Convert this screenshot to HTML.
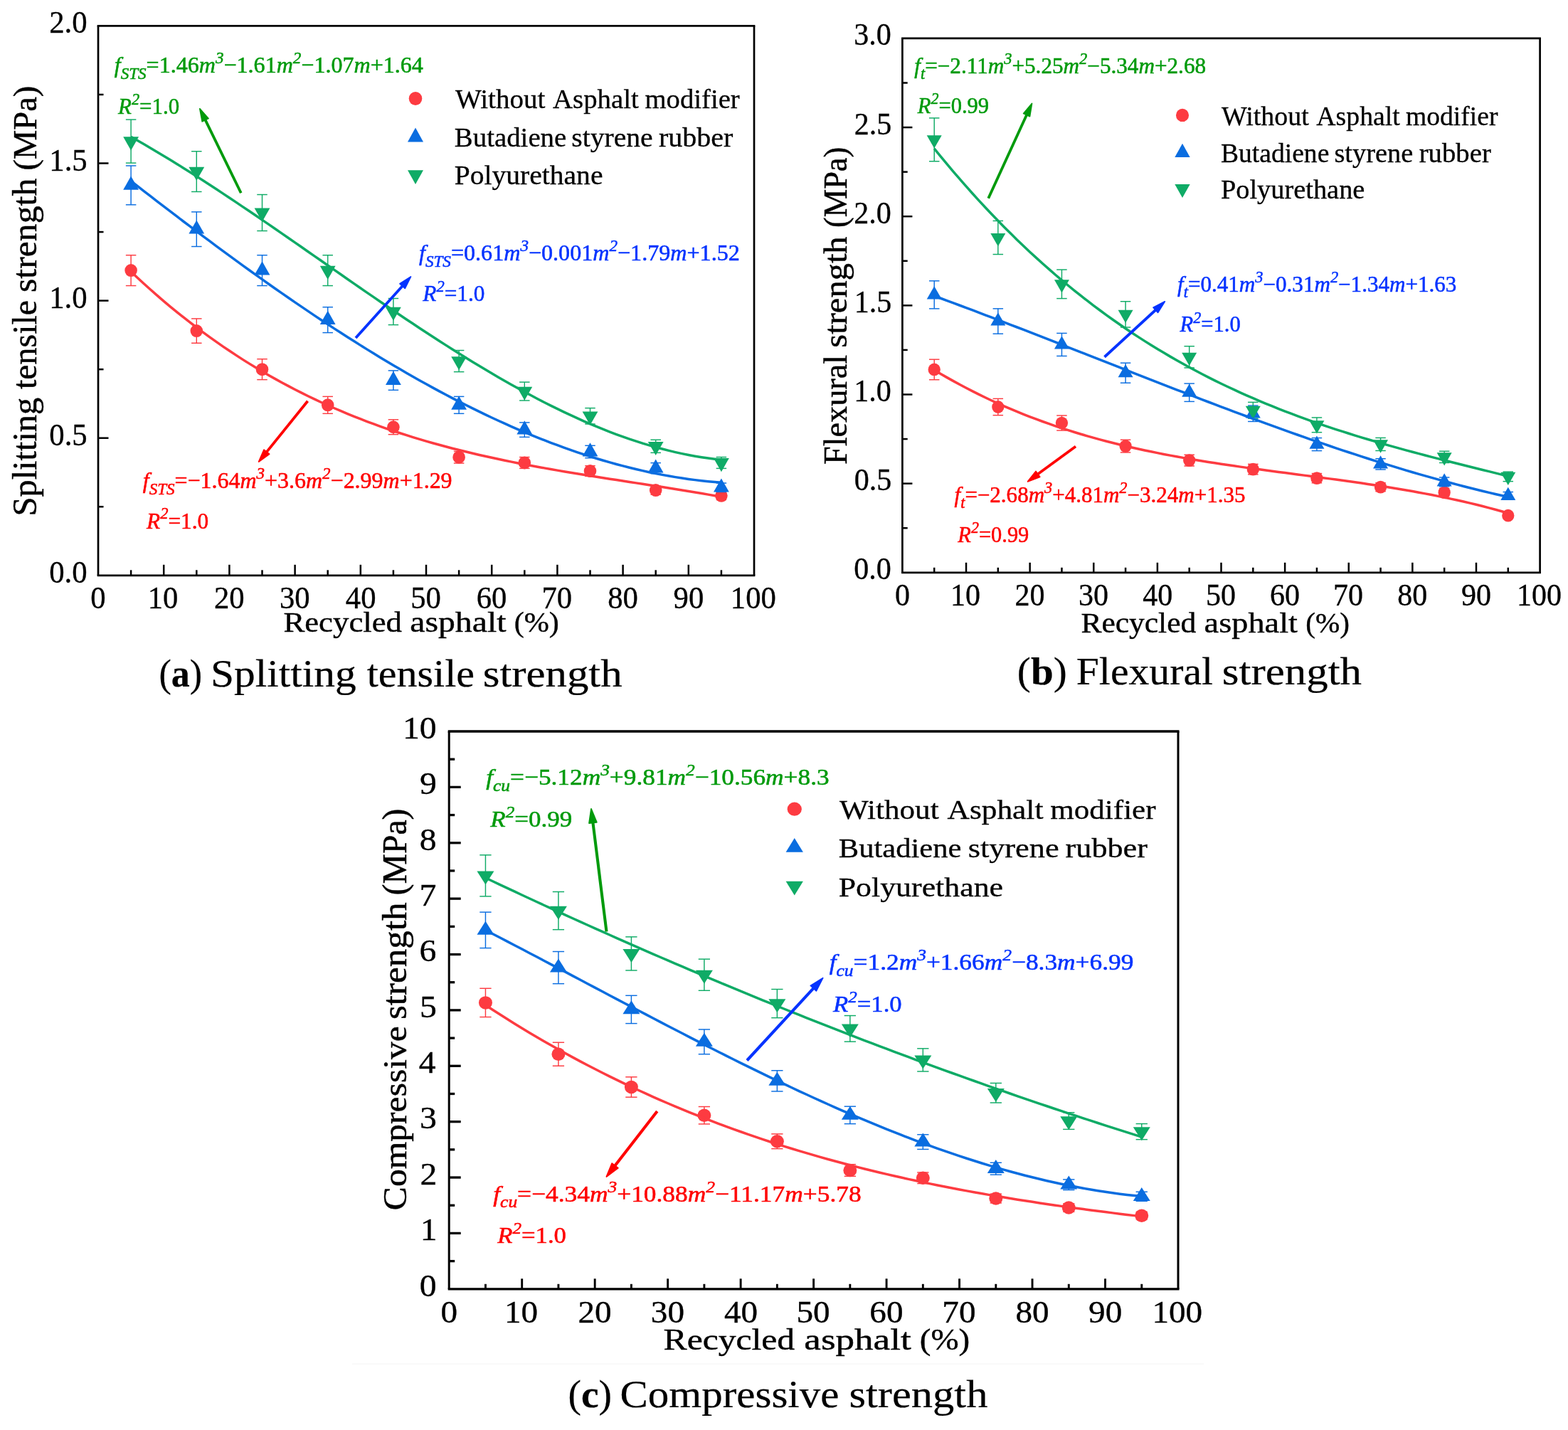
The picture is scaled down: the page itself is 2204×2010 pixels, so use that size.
<!DOCTYPE html>
<html><head><meta charset="utf-8"><title>Strength of recycled asphalt mixtures</title>
<style>
html,body{margin:0;padding:0;background:#ffffff;}
svg{display:block;}
text{font-family:"Liberation Serif",serif;white-space:pre;}
</style></head>
<body>
<svg width="2204" height="2010" viewBox="0 0 2204 2010">
<rect x="0" y="0" width="2204" height="2010" fill="#ffffff"/>
<line x1="495" y1="1917.2" x2="1692" y2="1917.2" stroke="#f6f6f6" stroke-width="1.2"/>
<line x1="184.10" y1="358.68" x2="184.10" y2="401.55" stroke="#fd3b41" stroke-width="1.45" stroke-linecap="butt"/>
<line x1="176.85" y1="358.68" x2="191.35" y2="358.68" stroke="#fd3b41" stroke-width="1.45" stroke-linecap="butt"/>
<line x1="176.85" y1="401.55" x2="191.35" y2="401.55" stroke="#fd3b41" stroke-width="1.45" stroke-linecap="butt"/>
<line x1="276.30" y1="447.90" x2="276.30" y2="482.27" stroke="#fd3b41" stroke-width="1.45" stroke-linecap="butt"/>
<line x1="269.05" y1="447.90" x2="283.55" y2="447.90" stroke="#fd3b41" stroke-width="1.45" stroke-linecap="butt"/>
<line x1="269.05" y1="482.27" x2="283.55" y2="482.27" stroke="#fd3b41" stroke-width="1.45" stroke-linecap="butt"/>
<line x1="368.50" y1="504.67" x2="368.50" y2="533.63" stroke="#fd3b41" stroke-width="1.45" stroke-linecap="butt"/>
<line x1="361.25" y1="504.67" x2="375.75" y2="504.67" stroke="#fd3b41" stroke-width="1.45" stroke-linecap="butt"/>
<line x1="361.25" y1="533.63" x2="375.75" y2="533.63" stroke="#fd3b41" stroke-width="1.45" stroke-linecap="butt"/>
<line x1="460.70" y1="557.38" x2="460.70" y2="581.33" stroke="#fd3b41" stroke-width="1.45" stroke-linecap="butt"/>
<line x1="453.45" y1="557.38" x2="467.95" y2="557.38" stroke="#fd3b41" stroke-width="1.45" stroke-linecap="butt"/>
<line x1="453.45" y1="581.33" x2="467.95" y2="581.33" stroke="#fd3b41" stroke-width="1.45" stroke-linecap="butt"/>
<line x1="552.90" y1="589.82" x2="552.90" y2="610.68" stroke="#fd3b41" stroke-width="1.45" stroke-linecap="butt"/>
<line x1="545.65" y1="589.82" x2="560.15" y2="589.82" stroke="#fd3b41" stroke-width="1.45" stroke-linecap="butt"/>
<line x1="545.65" y1="610.68" x2="560.15" y2="610.68" stroke="#fd3b41" stroke-width="1.45" stroke-linecap="butt"/>
<line x1="645.10" y1="634.43" x2="645.10" y2="651.04" stroke="#fd3b41" stroke-width="1.45" stroke-linecap="butt"/>
<line x1="637.85" y1="634.43" x2="652.35" y2="634.43" stroke="#fd3b41" stroke-width="1.45" stroke-linecap="butt"/>
<line x1="637.85" y1="651.04" x2="652.35" y2="651.04" stroke="#fd3b41" stroke-width="1.45" stroke-linecap="butt"/>
<line x1="737.30" y1="642.54" x2="737.30" y2="658.38" stroke="#fd3b41" stroke-width="1.45" stroke-linecap="butt"/>
<line x1="730.05" y1="642.54" x2="744.55" y2="642.54" stroke="#fd3b41" stroke-width="1.45" stroke-linecap="butt"/>
<line x1="730.05" y1="658.38" x2="744.55" y2="658.38" stroke="#fd3b41" stroke-width="1.45" stroke-linecap="butt"/>
<line x1="829.50" y1="654.71" x2="829.50" y2="669.38" stroke="#fd3b41" stroke-width="1.45" stroke-linecap="butt"/>
<line x1="822.25" y1="654.71" x2="836.75" y2="654.71" stroke="#fd3b41" stroke-width="1.45" stroke-linecap="butt"/>
<line x1="822.25" y1="669.38" x2="836.75" y2="669.38" stroke="#fd3b41" stroke-width="1.45" stroke-linecap="butt"/>
<line x1="921.70" y1="683.09" x2="921.70" y2="695.06" stroke="#fd3b41" stroke-width="1.45" stroke-linecap="butt"/>
<line x1="914.45" y1="683.09" x2="928.95" y2="683.09" stroke="#fd3b41" stroke-width="1.45" stroke-linecap="butt"/>
<line x1="914.45" y1="695.06" x2="928.95" y2="695.06" stroke="#fd3b41" stroke-width="1.45" stroke-linecap="butt"/>
<line x1="1013.90" y1="691.20" x2="1013.90" y2="702.40" stroke="#fd3b41" stroke-width="1.45" stroke-linecap="butt"/>
<line x1="1006.65" y1="691.20" x2="1021.15" y2="691.20" stroke="#fd3b41" stroke-width="1.45" stroke-linecap="butt"/>
<line x1="1006.65" y1="702.40" x2="1021.15" y2="702.40" stroke="#fd3b41" stroke-width="1.45" stroke-linecap="butt"/>
<ellipse cx="184.10" cy="380.12" rx="8.80" ry="9.00" fill="#fd3b41"/>
<ellipse cx="276.30" cy="465.08" rx="8.80" ry="9.00" fill="#fd3b41"/>
<ellipse cx="368.50" cy="519.15" rx="8.80" ry="9.00" fill="#fd3b41"/>
<ellipse cx="460.70" cy="569.36" rx="8.80" ry="9.00" fill="#fd3b41"/>
<ellipse cx="552.90" cy="600.25" rx="8.80" ry="9.00" fill="#fd3b41"/>
<ellipse cx="645.10" cy="642.73" rx="8.80" ry="9.00" fill="#fd3b41"/>
<ellipse cx="737.30" cy="650.46" rx="8.80" ry="9.00" fill="#fd3b41"/>
<ellipse cx="829.50" cy="662.04" rx="8.80" ry="9.00" fill="#fd3b41"/>
<ellipse cx="921.70" cy="689.08" rx="8.80" ry="9.00" fill="#fd3b41"/>
<ellipse cx="1013.90" cy="696.80" rx="8.80" ry="9.00" fill="#fd3b41"/>
<line x1="184.10" y1="232.98" x2="184.10" y2="287.82" stroke="#0a6de0" stroke-width="1.45" stroke-linecap="butt"/>
<line x1="176.85" y1="232.98" x2="191.35" y2="232.98" stroke="#0a6de0" stroke-width="1.45" stroke-linecap="butt"/>
<line x1="176.85" y1="287.82" x2="191.35" y2="287.82" stroke="#0a6de0" stroke-width="1.45" stroke-linecap="butt"/>
<line x1="276.30" y1="297.86" x2="276.30" y2="346.52" stroke="#0a6de0" stroke-width="1.45" stroke-linecap="butt"/>
<line x1="269.05" y1="297.86" x2="283.55" y2="297.86" stroke="#0a6de0" stroke-width="1.45" stroke-linecap="butt"/>
<line x1="269.05" y1="346.52" x2="283.55" y2="346.52" stroke="#0a6de0" stroke-width="1.45" stroke-linecap="butt"/>
<line x1="368.50" y1="358.68" x2="368.50" y2="401.55" stroke="#0a6de0" stroke-width="1.45" stroke-linecap="butt"/>
<line x1="361.25" y1="358.68" x2="375.75" y2="358.68" stroke="#0a6de0" stroke-width="1.45" stroke-linecap="butt"/>
<line x1="361.25" y1="401.55" x2="375.75" y2="401.55" stroke="#0a6de0" stroke-width="1.45" stroke-linecap="butt"/>
<line x1="460.70" y1="431.68" x2="460.70" y2="467.59" stroke="#0a6de0" stroke-width="1.45" stroke-linecap="butt"/>
<line x1="453.45" y1="431.68" x2="467.95" y2="431.68" stroke="#0a6de0" stroke-width="1.45" stroke-linecap="butt"/>
<line x1="453.45" y1="467.59" x2="467.95" y2="467.59" stroke="#0a6de0" stroke-width="1.45" stroke-linecap="butt"/>
<line x1="552.90" y1="520.89" x2="552.90" y2="548.31" stroke="#0a6de0" stroke-width="1.45" stroke-linecap="butt"/>
<line x1="545.65" y1="520.89" x2="560.15" y2="520.89" stroke="#0a6de0" stroke-width="1.45" stroke-linecap="butt"/>
<line x1="545.65" y1="548.31" x2="560.15" y2="548.31" stroke="#0a6de0" stroke-width="1.45" stroke-linecap="butt"/>
<line x1="645.10" y1="557.38" x2="645.10" y2="581.33" stroke="#0a6de0" stroke-width="1.45" stroke-linecap="butt"/>
<line x1="637.85" y1="557.38" x2="652.35" y2="557.38" stroke="#0a6de0" stroke-width="1.45" stroke-linecap="butt"/>
<line x1="637.85" y1="581.33" x2="652.35" y2="581.33" stroke="#0a6de0" stroke-width="1.45" stroke-linecap="butt"/>
<line x1="737.30" y1="593.88" x2="737.30" y2="614.35" stroke="#0a6de0" stroke-width="1.45" stroke-linecap="butt"/>
<line x1="730.05" y1="593.88" x2="744.55" y2="593.88" stroke="#0a6de0" stroke-width="1.45" stroke-linecap="butt"/>
<line x1="730.05" y1="614.35" x2="744.55" y2="614.35" stroke="#0a6de0" stroke-width="1.45" stroke-linecap="butt"/>
<line x1="829.50" y1="626.32" x2="829.50" y2="643.70" stroke="#0a6de0" stroke-width="1.45" stroke-linecap="butt"/>
<line x1="822.25" y1="626.32" x2="836.75" y2="626.32" stroke="#0a6de0" stroke-width="1.45" stroke-linecap="butt"/>
<line x1="822.25" y1="643.70" x2="836.75" y2="643.70" stroke="#0a6de0" stroke-width="1.45" stroke-linecap="butt"/>
<line x1="921.70" y1="650.65" x2="921.70" y2="665.71" stroke="#0a6de0" stroke-width="1.45" stroke-linecap="butt"/>
<line x1="914.45" y1="650.65" x2="928.95" y2="650.65" stroke="#0a6de0" stroke-width="1.45" stroke-linecap="butt"/>
<line x1="914.45" y1="665.71" x2="928.95" y2="665.71" stroke="#0a6de0" stroke-width="1.45" stroke-linecap="butt"/>
<line x1="1013.90" y1="679.04" x2="1013.90" y2="691.40" stroke="#0a6de0" stroke-width="1.45" stroke-linecap="butt"/>
<line x1="1006.65" y1="679.04" x2="1021.15" y2="679.04" stroke="#0a6de0" stroke-width="1.45" stroke-linecap="butt"/>
<line x1="1006.65" y1="691.40" x2="1021.15" y2="691.40" stroke="#0a6de0" stroke-width="1.45" stroke-linecap="butt"/>
<polygon points="184.10,247.60 173.20,266.80 195.00,266.80" fill="#0a6de0"/>
<polygon points="276.30,309.39 265.40,328.59 287.20,328.59" fill="#0a6de0"/>
<polygon points="368.50,367.32 357.60,386.52 379.40,386.52" fill="#0a6de0"/>
<polygon points="460.70,436.83 449.80,456.03 471.60,456.03" fill="#0a6de0"/>
<polygon points="552.90,521.80 542.00,541.00 563.80,541.00" fill="#0a6de0"/>
<polygon points="645.10,556.56 634.20,575.76 656.00,575.76" fill="#0a6de0"/>
<polygon points="737.30,591.31 726.40,610.51 748.20,610.51" fill="#0a6de0"/>
<polygon points="829.50,622.21 818.60,641.41 840.40,641.41" fill="#0a6de0"/>
<polygon points="921.70,645.38 910.80,664.58 932.60,664.58" fill="#0a6de0"/>
<polygon points="1013.90,672.42 1003.00,691.62 1024.80,691.62" fill="#0a6de0"/>
<line x1="184.10" y1="168.09" x2="184.10" y2="229.11" stroke="#0fab66" stroke-width="1.45" stroke-linecap="butt"/>
<line x1="176.85" y1="168.09" x2="191.35" y2="168.09" stroke="#0fab66" stroke-width="1.45" stroke-linecap="butt"/>
<line x1="176.85" y1="229.11" x2="191.35" y2="229.11" stroke="#0fab66" stroke-width="1.45" stroke-linecap="butt"/>
<line x1="276.30" y1="212.70" x2="276.30" y2="269.47" stroke="#0fab66" stroke-width="1.45" stroke-linecap="butt"/>
<line x1="269.05" y1="212.70" x2="283.55" y2="212.70" stroke="#0fab66" stroke-width="1.45" stroke-linecap="butt"/>
<line x1="269.05" y1="269.47" x2="283.55" y2="269.47" stroke="#0fab66" stroke-width="1.45" stroke-linecap="butt"/>
<line x1="368.50" y1="273.53" x2="368.50" y2="324.51" stroke="#0fab66" stroke-width="1.45" stroke-linecap="butt"/>
<line x1="361.25" y1="273.53" x2="375.75" y2="273.53" stroke="#0fab66" stroke-width="1.45" stroke-linecap="butt"/>
<line x1="361.25" y1="324.51" x2="375.75" y2="324.51" stroke="#0fab66" stroke-width="1.45" stroke-linecap="butt"/>
<line x1="460.70" y1="358.68" x2="460.70" y2="401.55" stroke="#0fab66" stroke-width="1.45" stroke-linecap="butt"/>
<line x1="453.45" y1="358.68" x2="467.95" y2="358.68" stroke="#0fab66" stroke-width="1.45" stroke-linecap="butt"/>
<line x1="453.45" y1="401.55" x2="467.95" y2="401.55" stroke="#0fab66" stroke-width="1.45" stroke-linecap="butt"/>
<line x1="552.90" y1="419.51" x2="552.90" y2="456.59" stroke="#0fab66" stroke-width="1.45" stroke-linecap="butt"/>
<line x1="545.65" y1="419.51" x2="560.15" y2="419.51" stroke="#0fab66" stroke-width="1.45" stroke-linecap="butt"/>
<line x1="545.65" y1="456.59" x2="560.15" y2="456.59" stroke="#0fab66" stroke-width="1.45" stroke-linecap="butt"/>
<line x1="645.10" y1="492.50" x2="645.10" y2="522.63" stroke="#0fab66" stroke-width="1.45" stroke-linecap="butt"/>
<line x1="637.85" y1="492.50" x2="652.35" y2="492.50" stroke="#0fab66" stroke-width="1.45" stroke-linecap="butt"/>
<line x1="637.85" y1="522.63" x2="652.35" y2="522.63" stroke="#0fab66" stroke-width="1.45" stroke-linecap="butt"/>
<line x1="737.30" y1="537.11" x2="737.30" y2="562.98" stroke="#0fab66" stroke-width="1.45" stroke-linecap="butt"/>
<line x1="730.05" y1="537.11" x2="744.55" y2="537.11" stroke="#0fab66" stroke-width="1.45" stroke-linecap="butt"/>
<line x1="730.05" y1="562.98" x2="744.55" y2="562.98" stroke="#0fab66" stroke-width="1.45" stroke-linecap="butt"/>
<line x1="829.50" y1="573.60" x2="829.50" y2="596.00" stroke="#0fab66" stroke-width="1.45" stroke-linecap="butt"/>
<line x1="822.25" y1="573.60" x2="836.75" y2="573.60" stroke="#0fab66" stroke-width="1.45" stroke-linecap="butt"/>
<line x1="822.25" y1="596.00" x2="836.75" y2="596.00" stroke="#0fab66" stroke-width="1.45" stroke-linecap="butt"/>
<line x1="921.70" y1="618.21" x2="921.70" y2="636.36" stroke="#0fab66" stroke-width="1.45" stroke-linecap="butt"/>
<line x1="914.45" y1="618.21" x2="928.95" y2="618.21" stroke="#0fab66" stroke-width="1.45" stroke-linecap="butt"/>
<line x1="914.45" y1="636.36" x2="928.95" y2="636.36" stroke="#0fab66" stroke-width="1.45" stroke-linecap="butt"/>
<line x1="1013.90" y1="642.54" x2="1013.90" y2="658.38" stroke="#0fab66" stroke-width="1.45" stroke-linecap="butt"/>
<line x1="1006.65" y1="642.54" x2="1021.15" y2="642.54" stroke="#0fab66" stroke-width="1.45" stroke-linecap="butt"/>
<line x1="1006.65" y1="658.38" x2="1021.15" y2="658.38" stroke="#0fab66" stroke-width="1.45" stroke-linecap="butt"/>
<polygon points="184.10,211.40 173.20,192.20 195.00,192.20" fill="#0fab66"/>
<polygon points="276.30,253.89 265.40,234.69 287.20,234.69" fill="#0fab66"/>
<polygon points="368.50,311.82 357.60,292.62 379.40,292.62" fill="#0fab66"/>
<polygon points="460.70,392.92 449.80,373.72 471.60,373.72" fill="#0fab66"/>
<polygon points="552.90,450.85 542.00,431.65 563.80,431.65" fill="#0fab66"/>
<polygon points="645.10,520.36 634.20,501.16 656.00,501.16" fill="#0fab66"/>
<polygon points="737.30,562.85 726.40,543.65 748.20,543.65" fill="#0fab66"/>
<polygon points="829.50,597.60 818.60,578.40 840.40,578.40" fill="#0fab66"/>
<polygon points="921.70,640.09 910.80,620.89 932.60,620.89" fill="#0fab66"/>
<polygon points="1013.90,663.26 1003.00,644.06 1024.80,644.06" fill="#0fab66"/>
<path d="M184.10,381.86 L193.32,390.52 L202.54,398.99 L211.76,407.28 L220.98,415.38 L230.20,423.30 L239.42,431.04 L248.64,438.60 L257.86,445.99 L267.08,453.21 L276.30,460.26 L285.52,467.15 L294.74,473.87 L303.96,480.43 L313.18,486.83 L322.40,493.07 L331.62,499.16 L340.84,505.10 L350.06,510.89 L359.28,516.54 L368.50,522.04 L377.72,527.40 L386.94,532.62 L396.16,537.70 L405.38,542.65 L414.60,547.47 L423.82,552.16 L433.04,556.72 L442.26,561.16 L451.48,565.48 L460.70,569.68 L469.92,573.76 L479.14,577.73 L488.36,581.59 L497.58,585.34 L506.80,588.98 L516.02,592.52 L525.24,595.95 L534.46,599.29 L543.68,602.53 L552.90,605.68 L562.12,608.73 L571.34,611.70 L580.56,614.58 L589.78,617.38 L599.00,620.09 L608.22,622.73 L617.44,625.29 L626.66,627.77 L635.88,630.19 L645.10,632.53 L654.32,634.81 L663.54,637.03 L672.76,639.18 L681.98,641.27 L691.20,643.31 L700.42,645.29 L709.64,647.22 L718.86,649.11 L728.08,650.94 L737.30,652.73 L746.52,654.48 L755.74,656.20 L764.96,657.87 L774.18,659.51 L783.40,661.12 L792.62,662.70 L801.84,664.25 L811.06,665.78 L820.28,667.29 L829.50,668.78 L838.72,670.25 L847.94,671.70 L857.16,673.15 L866.38,674.59 L875.60,676.02 L884.82,677.44 L894.04,678.87 L903.26,680.29 L912.48,681.72 L921.70,683.15 L930.92,684.59 L940.14,686.05 L949.36,687.51 L958.58,689.00 L967.80,690.50 L977.02,692.02 L986.24,693.56 L995.46,695.13 L1004.68,696.73 L1013.90,698.36" fill="none" stroke="#fd3b41" stroke-width="3.50" stroke-linejoin="round"/>
<path d="M184.10,254.42 L193.32,261.61 L202.54,268.77 L211.76,275.91 L220.98,283.03 L230.20,290.12 L239.42,297.19 L248.64,304.23 L257.86,311.24 L267.08,318.21 L276.30,325.16 L285.52,332.08 L294.74,338.96 L303.96,345.81 L313.18,352.62 L322.40,359.40 L331.62,366.13 L340.84,372.83 L350.06,379.49 L359.28,386.11 L368.50,392.68 L377.72,399.21 L386.94,405.70 L396.16,412.13 L405.38,418.53 L414.60,424.87 L423.82,431.16 L433.04,437.41 L442.26,443.60 L451.48,449.74 L460.70,455.82 L469.92,461.85 L479.14,467.82 L488.36,473.74 L497.58,479.60 L506.80,485.39 L516.02,491.13 L525.24,496.80 L534.46,502.41 L543.68,507.96 L552.90,513.44 L562.12,518.85 L571.34,524.20 L580.56,529.47 L589.78,534.68 L599.00,539.81 L608.22,544.87 L617.44,549.86 L626.66,554.77 L635.88,559.61 L645.10,564.37 L654.32,569.05 L663.54,573.66 L672.76,578.18 L681.98,582.62 L691.20,586.97 L700.42,591.25 L709.64,595.44 L718.86,599.54 L728.08,603.55 L737.30,607.48 L746.52,611.31 L755.74,615.05 L764.96,618.71 L774.18,622.27 L783.40,625.73 L792.62,629.10 L801.84,632.37 L811.06,635.54 L820.28,638.62 L829.50,641.59 L838.72,644.47 L847.94,647.24 L857.16,649.91 L866.38,652.47 L875.60,654.92 L884.82,657.27 L894.04,659.51 L903.26,661.65 L912.48,663.67 L921.70,665.58 L930.92,667.37 L940.14,669.06 L949.36,670.62 L958.58,672.07 L967.80,673.41 L977.02,674.62 L986.24,675.72 L995.46,676.69 L1004.68,677.54 L1013.90,678.27" fill="none" stroke="#0a6de0" stroke-width="3.50" stroke-linejoin="round"/>
<path d="M184.10,192.26 L193.32,197.48 L202.54,202.79 L211.76,208.18 L220.98,213.65 L230.20,219.19 L239.42,224.80 L248.64,230.47 L257.86,236.22 L267.08,242.02 L276.30,247.88 L285.52,253.80 L294.74,259.77 L303.96,265.80 L313.18,271.86 L322.40,277.98 L331.62,284.13 L340.84,290.33 L350.06,296.55 L359.28,302.81 L368.50,309.10 L377.72,315.42 L386.94,321.76 L396.16,328.12 L405.38,334.50 L414.60,340.89 L423.82,347.29 L433.04,353.71 L442.26,360.12 L451.48,366.54 L460.70,372.97 L469.92,379.38 L479.14,385.80 L488.36,392.20 L497.58,398.59 L506.80,404.96 L516.02,411.32 L525.24,417.66 L534.46,423.97 L543.68,430.26 L552.90,436.52 L562.12,442.74 L571.34,448.93 L580.56,455.08 L589.78,461.19 L599.00,467.25 L608.22,473.27 L617.44,479.24 L626.66,485.15 L635.88,491.01 L645.10,496.81 L654.32,502.54 L663.54,508.21 L672.76,513.82 L681.98,519.35 L691.20,524.80 L700.42,530.18 L709.64,535.49 L718.86,540.70 L728.08,545.84 L737.30,550.88 L746.52,555.83 L755.74,560.69 L764.96,565.45 L774.18,570.11 L783.40,574.66 L792.62,579.11 L801.84,583.45 L811.06,587.68 L820.28,591.79 L829.50,595.78 L838.72,599.65 L847.94,603.40 L857.16,607.02 L866.38,610.52 L875.60,613.87 L884.82,617.10 L894.04,620.18 L903.26,623.12 L912.48,625.92 L921.70,628.56 L930.92,631.06 L940.14,633.41 L949.36,635.59 L958.58,637.62 L967.80,639.49 L977.02,641.19 L986.24,642.72 L995.46,644.08 L1004.68,645.26 L1013.90,646.27" fill="none" stroke="#0fab66" stroke-width="3.50" stroke-linejoin="round"/>
<line x1="184.10" y1="808.80" x2="184.10" y2="801.30" stroke="#000000" stroke-width="2.50" stroke-linecap="butt"/>
<line x1="230.20" y1="808.80" x2="230.20" y2="793.80" stroke="#000000" stroke-width="2.50" stroke-linecap="butt"/>
<line x1="276.30" y1="808.80" x2="276.30" y2="801.30" stroke="#000000" stroke-width="2.50" stroke-linecap="butt"/>
<line x1="322.40" y1="808.80" x2="322.40" y2="793.80" stroke="#000000" stroke-width="2.50" stroke-linecap="butt"/>
<line x1="368.50" y1="808.80" x2="368.50" y2="801.30" stroke="#000000" stroke-width="2.50" stroke-linecap="butt"/>
<line x1="414.60" y1="808.80" x2="414.60" y2="793.80" stroke="#000000" stroke-width="2.50" stroke-linecap="butt"/>
<line x1="460.70" y1="808.80" x2="460.70" y2="801.30" stroke="#000000" stroke-width="2.50" stroke-linecap="butt"/>
<line x1="506.80" y1="808.80" x2="506.80" y2="793.80" stroke="#000000" stroke-width="2.50" stroke-linecap="butt"/>
<line x1="552.90" y1="808.80" x2="552.90" y2="801.30" stroke="#000000" stroke-width="2.50" stroke-linecap="butt"/>
<line x1="599.00" y1="808.80" x2="599.00" y2="793.80" stroke="#000000" stroke-width="2.50" stroke-linecap="butt"/>
<line x1="645.10" y1="808.80" x2="645.10" y2="801.30" stroke="#000000" stroke-width="2.50" stroke-linecap="butt"/>
<line x1="691.20" y1="808.80" x2="691.20" y2="793.80" stroke="#000000" stroke-width="2.50" stroke-linecap="butt"/>
<line x1="737.30" y1="808.80" x2="737.30" y2="801.30" stroke="#000000" stroke-width="2.50" stroke-linecap="butt"/>
<line x1="783.40" y1="808.80" x2="783.40" y2="793.80" stroke="#000000" stroke-width="2.50" stroke-linecap="butt"/>
<line x1="829.50" y1="808.80" x2="829.50" y2="801.30" stroke="#000000" stroke-width="2.50" stroke-linecap="butt"/>
<line x1="875.60" y1="808.80" x2="875.60" y2="793.80" stroke="#000000" stroke-width="2.50" stroke-linecap="butt"/>
<line x1="921.70" y1="808.80" x2="921.70" y2="801.30" stroke="#000000" stroke-width="2.50" stroke-linecap="butt"/>
<line x1="967.80" y1="808.80" x2="967.80" y2="793.80" stroke="#000000" stroke-width="2.50" stroke-linecap="butt"/>
<line x1="1013.90" y1="808.80" x2="1013.90" y2="801.30" stroke="#000000" stroke-width="2.50" stroke-linecap="butt"/>
<line x1="138.00" y1="712.25" x2="145.50" y2="712.25" stroke="#000000" stroke-width="2.50" stroke-linecap="butt"/>
<line x1="138.00" y1="615.70" x2="152.50" y2="615.70" stroke="#000000" stroke-width="2.50" stroke-linecap="butt"/>
<line x1="138.00" y1="519.15" x2="145.50" y2="519.15" stroke="#000000" stroke-width="2.50" stroke-linecap="butt"/>
<line x1="138.00" y1="422.60" x2="152.50" y2="422.60" stroke="#000000" stroke-width="2.50" stroke-linecap="butt"/>
<line x1="138.00" y1="326.05" x2="145.50" y2="326.05" stroke="#000000" stroke-width="2.50" stroke-linecap="butt"/>
<line x1="138.00" y1="229.50" x2="152.50" y2="229.50" stroke="#000000" stroke-width="2.50" stroke-linecap="butt"/>
<line x1="138.00" y1="132.95" x2="145.50" y2="132.95" stroke="#000000" stroke-width="2.50" stroke-linecap="butt"/>
<line x1="136.65" y1="36.40" x2="1061.35" y2="36.40" stroke="#000000" stroke-width="2.70" stroke-linecap="butt"/>
<line x1="136.65" y1="808.80" x2="1061.35" y2="808.80" stroke="#000000" stroke-width="2.70" stroke-linecap="butt"/>
<line x1="138.00" y1="36.40" x2="138.00" y2="808.80" stroke="#000000" stroke-width="2.70" stroke-linecap="butt"/>
<line x1="1060.00" y1="36.40" x2="1060.00" y2="808.80" stroke="#000000" stroke-width="2.70" stroke-linecap="butt"/>
<ellipse cx="584.00" cy="138.50" rx="9.30" ry="9.50" fill="#fd3b41"/>
<polygon points="584.00,179.60 573.00,199.40 595.00,199.40" fill="#0a6de0"/>
<polygon points="584.00,259.00 573.00,239.20 595.00,239.20" fill="#0fab66"/>
<line x1="338.75" y1="271.25" x2="288.12" y2="167.62" stroke="#009a0c" stroke-width="3.80" stroke-linecap="butt"/>
<polygon points="280.87,152.78 292.94,166.49 284.26,170.73" fill="#009a0c" stroke="#009a0c" stroke-width="1.80" stroke-linejoin="round"/>
<line x1="500.00" y1="475.00" x2="566.37" y2="401.25" stroke="#0433ff" stroke-width="3.80" stroke-linecap="butt"/>
<polygon points="577.43,388.97 569.23,405.30 562.05,398.84" fill="#0433ff" stroke="#0433ff" stroke-width="1.80" stroke-linejoin="round"/>
<line x1="432.50" y1="563.75" x2="374.12" y2="636.10" stroke="#ff0000" stroke-width="3.80" stroke-linecap="butt"/>
<polygon points="363.74,648.96 371.05,632.21 378.57,638.28" fill="#ff0000" stroke="#ff0000" stroke-width="1.80" stroke-linejoin="round"/>
<line x1="1313.21" y1="505.19" x2="1313.21" y2="533.73" stroke="#fd3b41" stroke-width="1.45" stroke-linecap="butt"/>
<line x1="1305.96" y1="505.19" x2="1320.46" y2="505.19" stroke="#fd3b41" stroke-width="1.45" stroke-linecap="butt"/>
<line x1="1305.96" y1="533.73" x2="1320.46" y2="533.73" stroke="#fd3b41" stroke-width="1.45" stroke-linecap="butt"/>
<line x1="1402.83" y1="560.38" x2="1402.83" y2="583.66" stroke="#fd3b41" stroke-width="1.45" stroke-linecap="butt"/>
<line x1="1395.58" y1="560.38" x2="1410.08" y2="560.38" stroke="#fd3b41" stroke-width="1.45" stroke-linecap="butt"/>
<line x1="1395.58" y1="583.66" x2="1410.08" y2="583.66" stroke="#fd3b41" stroke-width="1.45" stroke-linecap="butt"/>
<line x1="1492.45" y1="584.04" x2="1492.45" y2="605.06" stroke="#fd3b41" stroke-width="1.45" stroke-linecap="butt"/>
<line x1="1485.20" y1="584.04" x2="1499.70" y2="584.04" stroke="#fd3b41" stroke-width="1.45" stroke-linecap="butt"/>
<line x1="1485.20" y1="605.06" x2="1499.70" y2="605.06" stroke="#fd3b41" stroke-width="1.45" stroke-linecap="butt"/>
<line x1="1582.07" y1="618.20" x2="1582.07" y2="635.97" stroke="#fd3b41" stroke-width="1.45" stroke-linecap="butt"/>
<line x1="1574.82" y1="618.20" x2="1589.32" y2="618.20" stroke="#fd3b41" stroke-width="1.45" stroke-linecap="butt"/>
<line x1="1574.82" y1="635.97" x2="1589.32" y2="635.97" stroke="#fd3b41" stroke-width="1.45" stroke-linecap="butt"/>
<line x1="1671.69" y1="639.23" x2="1671.69" y2="655.00" stroke="#fd3b41" stroke-width="1.45" stroke-linecap="butt"/>
<line x1="1664.44" y1="639.23" x2="1678.94" y2="639.23" stroke="#fd3b41" stroke-width="1.45" stroke-linecap="butt"/>
<line x1="1664.44" y1="655.00" x2="1678.94" y2="655.00" stroke="#fd3b41" stroke-width="1.45" stroke-linecap="butt"/>
<line x1="1761.31" y1="652.37" x2="1761.31" y2="666.88" stroke="#fd3b41" stroke-width="1.45" stroke-linecap="butt"/>
<line x1="1754.06" y1="652.37" x2="1768.56" y2="652.37" stroke="#fd3b41" stroke-width="1.45" stroke-linecap="butt"/>
<line x1="1754.06" y1="666.88" x2="1768.56" y2="666.88" stroke="#fd3b41" stroke-width="1.45" stroke-linecap="butt"/>
<line x1="1850.93" y1="665.51" x2="1850.93" y2="678.77" stroke="#fd3b41" stroke-width="1.45" stroke-linecap="butt"/>
<line x1="1843.68" y1="665.51" x2="1858.18" y2="665.51" stroke="#fd3b41" stroke-width="1.45" stroke-linecap="butt"/>
<line x1="1843.68" y1="678.77" x2="1858.18" y2="678.77" stroke="#fd3b41" stroke-width="1.45" stroke-linecap="butt"/>
<line x1="1940.55" y1="678.65" x2="1940.55" y2="690.66" stroke="#fd3b41" stroke-width="1.45" stroke-linecap="butt"/>
<line x1="1933.30" y1="678.65" x2="1947.80" y2="678.65" stroke="#fd3b41" stroke-width="1.45" stroke-linecap="butt"/>
<line x1="1933.30" y1="690.66" x2="1947.80" y2="690.66" stroke="#fd3b41" stroke-width="1.45" stroke-linecap="butt"/>
<line x1="2030.17" y1="686.53" x2="2030.17" y2="697.80" stroke="#fd3b41" stroke-width="1.45" stroke-linecap="butt"/>
<line x1="2022.92" y1="686.53" x2="2037.42" y2="686.53" stroke="#fd3b41" stroke-width="1.45" stroke-linecap="butt"/>
<line x1="2022.92" y1="697.80" x2="2037.42" y2="697.80" stroke="#fd3b41" stroke-width="1.45" stroke-linecap="butt"/>
<line x1="2119.79" y1="720.70" x2="2119.79" y2="728.71" stroke="#fd3b41" stroke-width="1.45" stroke-linecap="butt"/>
<line x1="2112.54" y1="720.70" x2="2127.04" y2="720.70" stroke="#fd3b41" stroke-width="1.45" stroke-linecap="butt"/>
<line x1="2112.54" y1="728.71" x2="2127.04" y2="728.71" stroke="#fd3b41" stroke-width="1.45" stroke-linecap="butt"/>
<ellipse cx="1313.21" cy="519.46" rx="8.65" ry="8.90" fill="#fd3b41"/>
<ellipse cx="1402.83" cy="572.02" rx="8.65" ry="8.90" fill="#fd3b41"/>
<ellipse cx="1492.45" cy="594.55" rx="8.65" ry="8.90" fill="#fd3b41"/>
<ellipse cx="1582.07" cy="627.09" rx="8.65" ry="8.90" fill="#fd3b41"/>
<ellipse cx="1671.69" cy="647.11" rx="8.65" ry="8.90" fill="#fd3b41"/>
<ellipse cx="1761.31" cy="659.63" rx="8.65" ry="8.90" fill="#fd3b41"/>
<ellipse cx="1850.93" cy="672.14" rx="8.65" ry="8.90" fill="#fd3b41"/>
<ellipse cx="1940.55" cy="684.66" rx="8.65" ry="8.90" fill="#fd3b41"/>
<ellipse cx="2030.17" cy="692.16" rx="8.65" ry="8.90" fill="#fd3b41"/>
<ellipse cx="2119.79" cy="724.70" rx="8.65" ry="8.90" fill="#fd3b41"/>
<line x1="1313.21" y1="394.81" x2="1313.21" y2="433.86" stroke="#0a6de0" stroke-width="1.45" stroke-linecap="butt"/>
<line x1="1305.96" y1="394.81" x2="1320.46" y2="394.81" stroke="#0a6de0" stroke-width="1.45" stroke-linecap="butt"/>
<line x1="1305.96" y1="433.86" x2="1320.46" y2="433.86" stroke="#0a6de0" stroke-width="1.45" stroke-linecap="butt"/>
<line x1="1402.83" y1="433.84" x2="1402.83" y2="469.17" stroke="#0a6de0" stroke-width="1.45" stroke-linecap="butt"/>
<line x1="1395.58" y1="433.84" x2="1410.08" y2="433.84" stroke="#0a6de0" stroke-width="1.45" stroke-linecap="butt"/>
<line x1="1395.58" y1="469.17" x2="1410.08" y2="469.17" stroke="#0a6de0" stroke-width="1.45" stroke-linecap="butt"/>
<line x1="1492.45" y1="468.40" x2="1492.45" y2="500.44" stroke="#0a6de0" stroke-width="1.45" stroke-linecap="butt"/>
<line x1="1485.20" y1="468.40" x2="1499.70" y2="468.40" stroke="#0a6de0" stroke-width="1.45" stroke-linecap="butt"/>
<line x1="1485.20" y1="500.44" x2="1499.70" y2="500.44" stroke="#0a6de0" stroke-width="1.45" stroke-linecap="butt"/>
<line x1="1582.07" y1="510.18" x2="1582.07" y2="538.24" stroke="#0a6de0" stroke-width="1.45" stroke-linecap="butt"/>
<line x1="1574.82" y1="510.18" x2="1589.32" y2="510.18" stroke="#0a6de0" stroke-width="1.45" stroke-linecap="butt"/>
<line x1="1574.82" y1="538.24" x2="1589.32" y2="538.24" stroke="#0a6de0" stroke-width="1.45" stroke-linecap="butt"/>
<line x1="1671.69" y1="539.09" x2="1671.69" y2="564.40" stroke="#0a6de0" stroke-width="1.45" stroke-linecap="butt"/>
<line x1="1664.44" y1="539.09" x2="1678.94" y2="539.09" stroke="#0a6de0" stroke-width="1.45" stroke-linecap="butt"/>
<line x1="1664.44" y1="564.40" x2="1678.94" y2="564.40" stroke="#0a6de0" stroke-width="1.45" stroke-linecap="butt"/>
<line x1="1761.31" y1="570.11" x2="1761.31" y2="592.46" stroke="#0a6de0" stroke-width="1.45" stroke-linecap="butt"/>
<line x1="1754.06" y1="570.11" x2="1768.56" y2="570.11" stroke="#0a6de0" stroke-width="1.45" stroke-linecap="butt"/>
<line x1="1754.06" y1="592.46" x2="1768.56" y2="592.46" stroke="#0a6de0" stroke-width="1.45" stroke-linecap="butt"/>
<line x1="1850.93" y1="615.57" x2="1850.93" y2="633.59" stroke="#0a6de0" stroke-width="1.45" stroke-linecap="butt"/>
<line x1="1843.68" y1="615.57" x2="1858.18" y2="615.57" stroke="#0a6de0" stroke-width="1.45" stroke-linecap="butt"/>
<line x1="1843.68" y1="633.59" x2="1858.18" y2="633.59" stroke="#0a6de0" stroke-width="1.45" stroke-linecap="butt"/>
<line x1="1940.55" y1="644.75" x2="1940.55" y2="659.99" stroke="#0a6de0" stroke-width="1.45" stroke-linecap="butt"/>
<line x1="1933.30" y1="644.75" x2="1947.80" y2="644.75" stroke="#0a6de0" stroke-width="1.45" stroke-linecap="butt"/>
<line x1="1933.30" y1="659.99" x2="1947.80" y2="659.99" stroke="#0a6de0" stroke-width="1.45" stroke-linecap="butt"/>
<line x1="2030.17" y1="671.03" x2="2030.17" y2="683.77" stroke="#0a6de0" stroke-width="1.45" stroke-linecap="butt"/>
<line x1="2022.92" y1="671.03" x2="2037.42" y2="671.03" stroke="#0a6de0" stroke-width="1.45" stroke-linecap="butt"/>
<line x1="2022.92" y1="683.77" x2="2037.42" y2="683.77" stroke="#0a6de0" stroke-width="1.45" stroke-linecap="butt"/>
<line x1="2119.79" y1="691.53" x2="2119.79" y2="702.31" stroke="#0a6de0" stroke-width="1.45" stroke-linecap="butt"/>
<line x1="2112.54" y1="691.53" x2="2127.04" y2="691.53" stroke="#0a6de0" stroke-width="1.45" stroke-linecap="butt"/>
<line x1="2112.54" y1="702.31" x2="2127.04" y2="702.31" stroke="#0a6de0" stroke-width="1.45" stroke-linecap="butt"/>
<polygon points="1313.21,402.13 1302.71,420.43 1323.71,420.43" fill="#0a6de0"/>
<polygon points="1402.83,439.30 1392.33,457.60 1413.33,457.60" fill="#0a6de0"/>
<polygon points="1492.45,472.22 1481.95,490.52 1502.95,490.52" fill="#0a6de0"/>
<polygon points="1582.07,512.01 1571.57,530.31 1592.57,530.31" fill="#0a6de0"/>
<polygon points="1671.69,539.55 1661.19,557.85 1682.19,557.85" fill="#0a6de0"/>
<polygon points="1761.31,569.08 1750.81,587.38 1771.81,587.38" fill="#0a6de0"/>
<polygon points="1850.93,612.38 1840.43,630.68 1861.43,630.68" fill="#0a6de0"/>
<polygon points="1940.55,640.17 1930.05,658.47 1951.05,658.47" fill="#0a6de0"/>
<polygon points="2030.17,665.20 2019.67,683.50 2040.67,683.50" fill="#0a6de0"/>
<polygon points="2119.79,684.72 2109.29,703.02 2130.29,703.02" fill="#0a6de0"/>
<line x1="1313.21" y1="165.90" x2="1313.21" y2="226.74" stroke="#0fab66" stroke-width="1.45" stroke-linecap="butt"/>
<line x1="1305.96" y1="165.90" x2="1320.46" y2="165.90" stroke="#0fab66" stroke-width="1.45" stroke-linecap="butt"/>
<line x1="1305.96" y1="226.74" x2="1320.46" y2="226.74" stroke="#0fab66" stroke-width="1.45" stroke-linecap="butt"/>
<line x1="1402.83" y1="310.44" x2="1402.83" y2="357.53" stroke="#0fab66" stroke-width="1.45" stroke-linecap="butt"/>
<line x1="1395.58" y1="310.44" x2="1410.08" y2="310.44" stroke="#0fab66" stroke-width="1.45" stroke-linecap="butt"/>
<line x1="1395.58" y1="357.53" x2="1410.08" y2="357.53" stroke="#0fab66" stroke-width="1.45" stroke-linecap="butt"/>
<line x1="1492.45" y1="379.04" x2="1492.45" y2="419.59" stroke="#0fab66" stroke-width="1.45" stroke-linecap="butt"/>
<line x1="1485.20" y1="379.04" x2="1499.70" y2="379.04" stroke="#0fab66" stroke-width="1.45" stroke-linecap="butt"/>
<line x1="1485.20" y1="419.59" x2="1499.70" y2="419.59" stroke="#0fab66" stroke-width="1.45" stroke-linecap="butt"/>
<line x1="1582.07" y1="423.72" x2="1582.07" y2="460.01" stroke="#0fab66" stroke-width="1.45" stroke-linecap="butt"/>
<line x1="1574.82" y1="423.72" x2="1589.32" y2="423.72" stroke="#0fab66" stroke-width="1.45" stroke-linecap="butt"/>
<line x1="1574.82" y1="460.01" x2="1589.32" y2="460.01" stroke="#0fab66" stroke-width="1.45" stroke-linecap="butt"/>
<line x1="1671.69" y1="486.66" x2="1671.69" y2="516.96" stroke="#0fab66" stroke-width="1.45" stroke-linecap="butt"/>
<line x1="1664.44" y1="486.66" x2="1678.94" y2="486.66" stroke="#0fab66" stroke-width="1.45" stroke-linecap="butt"/>
<line x1="1664.44" y1="516.96" x2="1678.94" y2="516.96" stroke="#0fab66" stroke-width="1.45" stroke-linecap="butt"/>
<line x1="1761.31" y1="565.38" x2="1761.31" y2="588.18" stroke="#0fab66" stroke-width="1.45" stroke-linecap="butt"/>
<line x1="1754.06" y1="565.38" x2="1768.56" y2="565.38" stroke="#0fab66" stroke-width="1.45" stroke-linecap="butt"/>
<line x1="1754.06" y1="588.18" x2="1768.56" y2="588.18" stroke="#0fab66" stroke-width="1.45" stroke-linecap="butt"/>
<line x1="1850.93" y1="586.93" x2="1850.93" y2="607.68" stroke="#0fab66" stroke-width="1.45" stroke-linecap="butt"/>
<line x1="1843.68" y1="586.93" x2="1858.18" y2="586.93" stroke="#0fab66" stroke-width="1.45" stroke-linecap="butt"/>
<line x1="1843.68" y1="607.68" x2="1858.18" y2="607.68" stroke="#0fab66" stroke-width="1.45" stroke-linecap="butt"/>
<line x1="1940.55" y1="615.44" x2="1940.55" y2="633.48" stroke="#0fab66" stroke-width="1.45" stroke-linecap="butt"/>
<line x1="1933.30" y1="615.44" x2="1947.80" y2="615.44" stroke="#0fab66" stroke-width="1.45" stroke-linecap="butt"/>
<line x1="1933.30" y1="633.48" x2="1947.80" y2="633.48" stroke="#0fab66" stroke-width="1.45" stroke-linecap="butt"/>
<line x1="2030.17" y1="634.23" x2="2030.17" y2="650.48" stroke="#0fab66" stroke-width="1.45" stroke-linecap="butt"/>
<line x1="2022.92" y1="634.23" x2="2037.42" y2="634.23" stroke="#0fab66" stroke-width="1.45" stroke-linecap="butt"/>
<line x1="2022.92" y1="650.48" x2="2037.42" y2="650.48" stroke="#0fab66" stroke-width="1.45" stroke-linecap="butt"/>
<line x1="2119.79" y1="663.14" x2="2119.79" y2="676.63" stroke="#0fab66" stroke-width="1.45" stroke-linecap="butt"/>
<line x1="2112.54" y1="663.14" x2="2127.04" y2="663.14" stroke="#0fab66" stroke-width="1.45" stroke-linecap="butt"/>
<line x1="2112.54" y1="676.63" x2="2127.04" y2="676.63" stroke="#0fab66" stroke-width="1.45" stroke-linecap="butt"/>
<polygon points="1313.21,208.52 1302.71,190.22 1323.71,190.22" fill="#0fab66"/>
<polygon points="1402.83,346.19 1392.33,327.89 1413.33,327.89" fill="#0fab66"/>
<polygon points="1492.45,411.51 1481.95,393.21 1502.95,393.21" fill="#0fab66"/>
<polygon points="1582.07,454.06 1571.57,435.76 1592.57,435.76" fill="#0fab66"/>
<polygon points="1671.69,514.01 1661.19,495.71 1682.19,495.71" fill="#0fab66"/>
<polygon points="1761.31,588.98 1750.81,570.68 1771.81,570.68" fill="#0fab66"/>
<polygon points="1850.93,609.50 1840.43,591.20 1861.43,591.20" fill="#0fab66"/>
<polygon points="1940.55,636.66 1930.05,618.36 1951.05,618.36" fill="#0fab66"/>
<polygon points="2030.17,654.56 2019.67,636.26 2040.67,636.26" fill="#0fab66"/>
<polygon points="2119.79,682.09 2109.29,663.79 2130.29,663.79" fill="#0fab66"/>
<path d="M1313.21,520.11 L1322.17,525.43 L1331.13,530.61 L1340.10,535.64 L1349.06,540.53 L1358.02,545.28 L1366.98,549.90 L1375.94,554.39 L1384.91,558.74 L1393.87,562.97 L1402.83,567.07 L1411.79,571.05 L1420.75,574.91 L1429.72,578.65 L1438.68,582.28 L1447.64,585.80 L1456.60,589.21 L1465.56,592.51 L1474.53,595.70 L1483.49,598.80 L1492.45,601.80 L1501.41,604.69 L1510.37,607.50 L1519.34,610.22 L1528.30,612.84 L1537.26,615.38 L1546.22,617.84 L1555.18,620.22 L1564.15,622.52 L1573.11,624.74 L1582.07,626.89 L1591.03,628.97 L1599.99,630.98 L1608.96,632.93 L1617.92,634.81 L1626.88,636.64 L1635.84,638.41 L1644.80,640.12 L1653.77,641.78 L1662.73,643.40 L1671.69,644.96 L1680.65,646.48 L1689.61,647.96 L1698.58,649.40 L1707.54,650.81 L1716.50,652.18 L1725.46,653.52 L1734.42,654.83 L1743.39,656.12 L1752.35,657.38 L1761.31,658.62 L1770.27,659.84 L1779.23,661.05 L1788.20,662.25 L1797.16,663.43 L1806.12,664.61 L1815.08,665.78 L1824.04,666.95 L1833.01,668.12 L1841.97,669.29 L1850.93,670.47 L1859.89,671.66 L1868.85,672.86 L1877.82,674.07 L1886.78,675.29 L1895.74,676.54 L1904.70,677.80 L1913.66,679.09 L1922.63,680.41 L1931.59,681.75 L1940.55,683.13 L1949.51,684.54 L1958.47,685.98 L1967.44,687.47 L1976.40,689.00 L1985.36,690.57 L1994.32,692.19 L2003.28,693.86 L2012.25,695.58 L2021.21,697.36 L2030.17,699.19 L2039.13,701.09 L2048.09,703.05 L2057.06,705.07 L2066.02,707.16 L2074.98,709.32 L2083.94,711.55 L2092.90,713.86 L2101.87,716.25 L2110.83,718.72 L2119.79,721.28" fill="none" stroke="#fd3b41" stroke-width="3.50" stroke-linejoin="round"/>
<path d="M1313.21,415.96 L1322.17,419.25 L1331.13,422.56 L1340.10,425.89 L1349.06,429.24 L1358.02,432.61 L1366.98,435.98 L1375.94,439.38 L1384.91,442.79 L1393.87,446.21 L1402.83,449.64 L1411.79,453.08 L1420.75,456.54 L1429.72,460.00 L1438.68,463.48 L1447.64,466.96 L1456.60,470.46 L1465.56,473.95 L1474.53,477.46 L1483.49,480.97 L1492.45,484.49 L1501.41,488.01 L1510.37,491.53 L1519.34,495.06 L1528.30,498.58 L1537.26,502.11 L1546.22,505.64 L1555.18,509.17 L1564.15,512.70 L1573.11,516.23 L1582.07,519.75 L1591.03,523.27 L1599.99,526.79 L1608.96,530.30 L1617.92,533.81 L1626.88,537.31 L1635.84,540.80 L1644.80,544.29 L1653.77,547.77 L1662.73,551.24 L1671.69,554.70 L1680.65,558.14 L1689.61,561.58 L1698.58,565.00 L1707.54,568.42 L1716.50,571.81 L1725.46,575.20 L1734.42,578.56 L1743.39,581.92 L1752.35,585.25 L1761.31,588.57 L1770.27,591.87 L1779.23,595.15 L1788.20,598.41 L1797.16,601.66 L1806.12,604.88 L1815.08,608.07 L1824.04,611.25 L1833.01,614.40 L1841.97,617.53 L1850.93,620.64 L1859.89,623.71 L1868.85,626.77 L1877.82,629.79 L1886.78,632.79 L1895.74,635.76 L1904.70,638.70 L1913.66,641.60 L1922.63,644.48 L1931.59,647.33 L1940.55,650.14 L1949.51,652.93 L1958.47,655.67 L1967.44,658.39 L1976.40,661.07 L1985.36,663.71 L1994.32,666.32 L2003.28,668.88 L2012.25,671.41 L2021.21,673.90 L2030.17,676.36 L2039.13,678.77 L2048.09,681.14 L2057.06,683.47 L2066.02,685.75 L2074.98,687.99 L2083.94,690.19 L2092.90,692.34 L2101.87,694.45 L2110.83,696.51 L2119.79,698.53" fill="none" stroke="#0a6de0" stroke-width="3.50" stroke-linejoin="round"/>
<path d="M1313.21,208.82 L1322.17,219.84 L1331.13,230.66 L1340.10,241.28 L1349.06,251.71 L1358.02,261.94 L1366.98,271.98 L1375.94,281.84 L1384.91,291.50 L1393.87,300.99 L1402.83,310.29 L1411.79,319.41 L1420.75,328.36 L1429.72,337.13 L1438.68,345.72 L1447.64,354.15 L1456.60,362.41 L1465.56,370.50 L1474.53,378.43 L1483.49,386.20 L1492.45,393.81 L1501.41,401.27 L1510.37,408.57 L1519.34,415.71 L1528.30,422.71 L1537.26,429.56 L1546.22,436.27 L1555.18,442.83 L1564.15,449.26 L1573.11,455.54 L1582.07,461.69 L1591.03,467.71 L1599.99,473.59 L1608.96,479.35 L1617.92,484.98 L1626.88,490.48 L1635.84,495.87 L1644.80,501.13 L1653.77,506.28 L1662.73,511.31 L1671.69,516.23 L1680.65,521.04 L1689.61,525.74 L1698.58,530.33 L1707.54,534.82 L1716.50,539.21 L1725.46,543.50 L1734.42,547.70 L1743.39,551.80 L1752.35,555.80 L1761.31,559.72 L1770.27,563.55 L1779.23,567.30 L1788.20,570.96 L1797.16,574.54 L1806.12,578.05 L1815.08,581.47 L1824.04,584.83 L1833.01,588.11 L1841.97,591.33 L1850.93,594.47 L1859.89,597.56 L1868.85,600.58 L1877.82,603.54 L1886.78,606.44 L1895.74,609.29 L1904.70,612.09 L1913.66,614.83 L1922.63,617.53 L1931.59,620.18 L1940.55,622.79 L1949.51,625.35 L1958.47,627.88 L1967.44,630.37 L1976.40,632.82 L1985.36,635.25 L1994.32,637.64 L2003.28,640.01 L2012.25,642.35 L2021.21,644.66 L2030.17,646.96 L2039.13,649.24 L2048.09,651.50 L2057.06,653.75 L2066.02,655.99 L2074.98,658.21 L2083.94,660.44 L2092.90,662.65 L2101.87,664.87 L2110.83,667.08 L2119.79,669.30" fill="none" stroke="#0fab66" stroke-width="3.50" stroke-linejoin="round"/>
<line x1="1313.21" y1="804.80" x2="1313.21" y2="797.80" stroke="#000000" stroke-width="2.50" stroke-linecap="butt"/>
<line x1="1358.02" y1="804.80" x2="1358.02" y2="790.80" stroke="#000000" stroke-width="2.50" stroke-linecap="butt"/>
<line x1="1402.83" y1="804.80" x2="1402.83" y2="797.80" stroke="#000000" stroke-width="2.50" stroke-linecap="butt"/>
<line x1="1447.64" y1="804.80" x2="1447.64" y2="790.80" stroke="#000000" stroke-width="2.50" stroke-linecap="butt"/>
<line x1="1492.45" y1="804.80" x2="1492.45" y2="797.80" stroke="#000000" stroke-width="2.50" stroke-linecap="butt"/>
<line x1="1537.26" y1="804.80" x2="1537.26" y2="790.80" stroke="#000000" stroke-width="2.50" stroke-linecap="butt"/>
<line x1="1582.07" y1="804.80" x2="1582.07" y2="797.80" stroke="#000000" stroke-width="2.50" stroke-linecap="butt"/>
<line x1="1626.88" y1="804.80" x2="1626.88" y2="790.80" stroke="#000000" stroke-width="2.50" stroke-linecap="butt"/>
<line x1="1671.69" y1="804.80" x2="1671.69" y2="797.80" stroke="#000000" stroke-width="2.50" stroke-linecap="butt"/>
<line x1="1716.50" y1="804.80" x2="1716.50" y2="790.80" stroke="#000000" stroke-width="2.50" stroke-linecap="butt"/>
<line x1="1761.31" y1="804.80" x2="1761.31" y2="797.80" stroke="#000000" stroke-width="2.50" stroke-linecap="butt"/>
<line x1="1806.12" y1="804.80" x2="1806.12" y2="790.80" stroke="#000000" stroke-width="2.50" stroke-linecap="butt"/>
<line x1="1850.93" y1="804.80" x2="1850.93" y2="797.80" stroke="#000000" stroke-width="2.50" stroke-linecap="butt"/>
<line x1="1895.74" y1="804.80" x2="1895.74" y2="790.80" stroke="#000000" stroke-width="2.50" stroke-linecap="butt"/>
<line x1="1940.55" y1="804.80" x2="1940.55" y2="797.80" stroke="#000000" stroke-width="2.50" stroke-linecap="butt"/>
<line x1="1985.36" y1="804.80" x2="1985.36" y2="790.80" stroke="#000000" stroke-width="2.50" stroke-linecap="butt"/>
<line x1="2030.17" y1="804.80" x2="2030.17" y2="797.80" stroke="#000000" stroke-width="2.50" stroke-linecap="butt"/>
<line x1="2074.98" y1="804.80" x2="2074.98" y2="790.80" stroke="#000000" stroke-width="2.50" stroke-linecap="butt"/>
<line x1="2119.79" y1="804.80" x2="2119.79" y2="797.80" stroke="#000000" stroke-width="2.50" stroke-linecap="butt"/>
<line x1="1268.40" y1="742.22" x2="1275.70" y2="742.22" stroke="#000000" stroke-width="2.50" stroke-linecap="butt"/>
<line x1="1268.40" y1="679.65" x2="1282.40" y2="679.65" stroke="#000000" stroke-width="2.50" stroke-linecap="butt"/>
<line x1="1268.40" y1="617.07" x2="1275.70" y2="617.07" stroke="#000000" stroke-width="2.50" stroke-linecap="butt"/>
<line x1="1268.40" y1="554.50" x2="1282.40" y2="554.50" stroke="#000000" stroke-width="2.50" stroke-linecap="butt"/>
<line x1="1268.40" y1="491.92" x2="1275.70" y2="491.92" stroke="#000000" stroke-width="2.50" stroke-linecap="butt"/>
<line x1="1268.40" y1="429.35" x2="1282.40" y2="429.35" stroke="#000000" stroke-width="2.50" stroke-linecap="butt"/>
<line x1="1268.40" y1="366.77" x2="1275.70" y2="366.77" stroke="#000000" stroke-width="2.50" stroke-linecap="butt"/>
<line x1="1268.40" y1="304.20" x2="1282.40" y2="304.20" stroke="#000000" stroke-width="2.50" stroke-linecap="butt"/>
<line x1="1268.40" y1="241.62" x2="1275.70" y2="241.62" stroke="#000000" stroke-width="2.50" stroke-linecap="butt"/>
<line x1="1268.40" y1="179.05" x2="1282.40" y2="179.05" stroke="#000000" stroke-width="2.50" stroke-linecap="butt"/>
<line x1="1268.40" y1="116.48" x2="1275.70" y2="116.48" stroke="#000000" stroke-width="2.50" stroke-linecap="butt"/>
<line x1="1267.05" y1="53.90" x2="2165.95" y2="53.90" stroke="#000000" stroke-width="2.70" stroke-linecap="butt"/>
<line x1="1267.05" y1="804.80" x2="2165.95" y2="804.80" stroke="#000000" stroke-width="2.70" stroke-linecap="butt"/>
<line x1="1268.40" y1="53.90" x2="1268.40" y2="804.80" stroke="#000000" stroke-width="2.70" stroke-linecap="butt"/>
<line x1="2164.60" y1="53.90" x2="2164.60" y2="804.80" stroke="#000000" stroke-width="2.70" stroke-linecap="butt"/>
<ellipse cx="1662.00" cy="161.90" rx="9.05" ry="9.20" fill="#fd3b41"/>
<polygon points="1662.00,201.70 1651.30,220.90 1672.70,220.90" fill="#0a6de0"/>
<polygon points="1662.00,278.10 1651.30,258.90 1672.70,258.90" fill="#0fab66"/>
<line x1="1389.25" y1="278.75" x2="1443.53" y2="160.56" stroke="#009a0c" stroke-width="3.80" stroke-linecap="butt"/>
<polygon points="1450.42,145.55 1447.46,163.58 1438.68,159.55" fill="#009a0c" stroke="#009a0c" stroke-width="1.80" stroke-linejoin="round"/>
<line x1="1552.50" y1="501.75" x2="1625.13" y2="435.02" stroke="#0433ff" stroke-width="3.80" stroke-linecap="butt"/>
<polygon points="1637.29,423.84 1627.59,439.32 1621.05,432.20" fill="#0433ff" stroke="#0433ff" stroke-width="1.80" stroke-linejoin="round"/>
<line x1="1512.00" y1="627.50" x2="1457.93" y2="667.07" stroke="#ff0000" stroke-width="3.80" stroke-linecap="butt"/>
<polygon points="1444.60,676.83 1455.96,662.53 1461.67,670.32" fill="#ff0000" stroke="#ff0000" stroke-width="1.80" stroke-linejoin="round"/>
<line x1="682.44" y1="1389.28" x2="682.44" y2="1429.52" stroke="#fd3b41" stroke-width="1.45" stroke-linecap="butt"/>
<line x1="674.29" y1="1389.28" x2="690.59" y2="1389.28" stroke="#fd3b41" stroke-width="1.45" stroke-linecap="butt"/>
<line x1="674.29" y1="1429.52" x2="690.59" y2="1429.52" stroke="#fd3b41" stroke-width="1.45" stroke-linecap="butt"/>
<line x1="784.92" y1="1465.24" x2="784.92" y2="1498.24" stroke="#fd3b41" stroke-width="1.45" stroke-linecap="butt"/>
<line x1="776.77" y1="1465.24" x2="793.07" y2="1465.24" stroke="#fd3b41" stroke-width="1.45" stroke-linecap="butt"/>
<line x1="776.77" y1="1498.24" x2="793.07" y2="1498.24" stroke="#fd3b41" stroke-width="1.45" stroke-linecap="butt"/>
<line x1="887.40" y1="1513.80" x2="887.40" y2="1542.18" stroke="#fd3b41" stroke-width="1.45" stroke-linecap="butt"/>
<line x1="879.25" y1="1513.80" x2="895.55" y2="1513.80" stroke="#fd3b41" stroke-width="1.45" stroke-linecap="butt"/>
<line x1="879.25" y1="1542.18" x2="895.55" y2="1542.18" stroke="#fd3b41" stroke-width="1.45" stroke-linecap="butt"/>
<line x1="989.88" y1="1555.52" x2="989.88" y2="1579.93" stroke="#fd3b41" stroke-width="1.45" stroke-linecap="butt"/>
<line x1="981.73" y1="1555.52" x2="998.03" y2="1555.52" stroke="#fd3b41" stroke-width="1.45" stroke-linecap="butt"/>
<line x1="981.73" y1="1579.93" x2="998.03" y2="1579.93" stroke="#fd3b41" stroke-width="1.45" stroke-linecap="butt"/>
<line x1="1092.36" y1="1593.87" x2="1092.36" y2="1614.63" stroke="#fd3b41" stroke-width="1.45" stroke-linecap="butt"/>
<line x1="1084.21" y1="1593.87" x2="1100.51" y2="1593.87" stroke="#fd3b41" stroke-width="1.45" stroke-linecap="butt"/>
<line x1="1084.21" y1="1614.63" x2="1100.51" y2="1614.63" stroke="#fd3b41" stroke-width="1.45" stroke-linecap="butt"/>
<line x1="1194.84" y1="1636.67" x2="1194.84" y2="1653.35" stroke="#fd3b41" stroke-width="1.45" stroke-linecap="butt"/>
<line x1="1186.69" y1="1636.67" x2="1202.99" y2="1636.67" stroke="#fd3b41" stroke-width="1.45" stroke-linecap="butt"/>
<line x1="1186.69" y1="1653.35" x2="1202.99" y2="1653.35" stroke="#fd3b41" stroke-width="1.45" stroke-linecap="butt"/>
<line x1="1297.32" y1="1647.94" x2="1297.32" y2="1663.55" stroke="#fd3b41" stroke-width="1.45" stroke-linecap="butt"/>
<line x1="1289.17" y1="1647.94" x2="1305.47" y2="1647.94" stroke="#fd3b41" stroke-width="1.45" stroke-linecap="butt"/>
<line x1="1289.17" y1="1663.55" x2="1305.47" y2="1663.55" stroke="#fd3b41" stroke-width="1.45" stroke-linecap="butt"/>
<line x1="1399.80" y1="1678.15" x2="1399.80" y2="1690.88" stroke="#fd3b41" stroke-width="1.45" stroke-linecap="butt"/>
<line x1="1391.65" y1="1678.15" x2="1407.95" y2="1678.15" stroke="#fd3b41" stroke-width="1.45" stroke-linecap="butt"/>
<line x1="1391.65" y1="1690.88" x2="1407.95" y2="1690.88" stroke="#fd3b41" stroke-width="1.45" stroke-linecap="butt"/>
<line x1="1502.28" y1="1691.81" x2="1502.28" y2="1703.24" stroke="#fd3b41" stroke-width="1.45" stroke-linecap="butt"/>
<line x1="1494.13" y1="1691.81" x2="1510.43" y2="1691.81" stroke="#fd3b41" stroke-width="1.45" stroke-linecap="butt"/>
<line x1="1494.13" y1="1703.24" x2="1510.43" y2="1703.24" stroke="#fd3b41" stroke-width="1.45" stroke-linecap="butt"/>
<line x1="1604.76" y1="1703.58" x2="1604.76" y2="1713.88" stroke="#fd3b41" stroke-width="1.45" stroke-linecap="butt"/>
<line x1="1596.61" y1="1703.58" x2="1612.91" y2="1703.58" stroke="#fd3b41" stroke-width="1.45" stroke-linecap="butt"/>
<line x1="1596.61" y1="1713.88" x2="1612.91" y2="1713.88" stroke="#fd3b41" stroke-width="1.45" stroke-linecap="butt"/>
<ellipse cx="682.44" cy="1409.40" rx="9.50" ry="9.25" fill="#fd3b41"/>
<ellipse cx="784.92" cy="1481.74" rx="9.50" ry="9.25" fill="#fd3b41"/>
<ellipse cx="887.40" cy="1527.99" rx="9.50" ry="9.25" fill="#fd3b41"/>
<ellipse cx="989.88" cy="1567.72" rx="9.50" ry="9.25" fill="#fd3b41"/>
<ellipse cx="1092.36" cy="1604.25" rx="9.50" ry="9.25" fill="#fd3b41"/>
<ellipse cx="1194.84" cy="1645.01" rx="9.50" ry="9.25" fill="#fd3b41"/>
<ellipse cx="1297.32" cy="1655.75" rx="9.50" ry="9.25" fill="#fd3b41"/>
<ellipse cx="1399.80" cy="1684.51" rx="9.50" ry="9.25" fill="#fd3b41"/>
<ellipse cx="1502.28" cy="1697.52" rx="9.50" ry="9.25" fill="#fd3b41"/>
<ellipse cx="1604.76" cy="1708.73" rx="9.50" ry="9.25" fill="#fd3b41"/>
<line x1="682.44" y1="1282.12" x2="682.44" y2="1332.57" stroke="#0a6de0" stroke-width="1.45" stroke-linecap="butt"/>
<line x1="674.29" y1="1282.12" x2="690.59" y2="1282.12" stroke="#0a6de0" stroke-width="1.45" stroke-linecap="butt"/>
<line x1="674.29" y1="1332.57" x2="690.59" y2="1332.57" stroke="#0a6de0" stroke-width="1.45" stroke-linecap="butt"/>
<line x1="784.92" y1="1337.51" x2="784.92" y2="1382.68" stroke="#0a6de0" stroke-width="1.45" stroke-linecap="butt"/>
<line x1="776.77" y1="1337.51" x2="793.07" y2="1337.51" stroke="#0a6de0" stroke-width="1.45" stroke-linecap="butt"/>
<line x1="776.77" y1="1382.68" x2="793.07" y2="1382.68" stroke="#0a6de0" stroke-width="1.45" stroke-linecap="butt"/>
<line x1="887.40" y1="1399.32" x2="887.40" y2="1438.60" stroke="#0a6de0" stroke-width="1.45" stroke-linecap="butt"/>
<line x1="879.25" y1="1399.32" x2="895.55" y2="1399.32" stroke="#0a6de0" stroke-width="1.45" stroke-linecap="butt"/>
<line x1="879.25" y1="1438.60" x2="895.55" y2="1438.60" stroke="#0a6de0" stroke-width="1.45" stroke-linecap="butt"/>
<line x1="989.88" y1="1446.97" x2="989.88" y2="1481.71" stroke="#0a6de0" stroke-width="1.45" stroke-linecap="butt"/>
<line x1="981.73" y1="1446.97" x2="998.03" y2="1446.97" stroke="#0a6de0" stroke-width="1.45" stroke-linecap="butt"/>
<line x1="981.73" y1="1481.71" x2="998.03" y2="1481.71" stroke="#0a6de0" stroke-width="1.45" stroke-linecap="butt"/>
<line x1="1092.36" y1="1504.74" x2="1092.36" y2="1533.99" stroke="#0a6de0" stroke-width="1.45" stroke-linecap="butt"/>
<line x1="1084.21" y1="1504.74" x2="1100.51" y2="1504.74" stroke="#0a6de0" stroke-width="1.45" stroke-linecap="butt"/>
<line x1="1084.21" y1="1533.99" x2="1100.51" y2="1533.99" stroke="#0a6de0" stroke-width="1.45" stroke-linecap="butt"/>
<line x1="1194.84" y1="1555.19" x2="1194.84" y2="1579.63" stroke="#0a6de0" stroke-width="1.45" stroke-linecap="butt"/>
<line x1="1186.69" y1="1555.19" x2="1202.99" y2="1555.19" stroke="#0a6de0" stroke-width="1.45" stroke-linecap="butt"/>
<line x1="1186.69" y1="1579.63" x2="1202.99" y2="1579.63" stroke="#0a6de0" stroke-width="1.45" stroke-linecap="butt"/>
<line x1="1297.32" y1="1594.78" x2="1297.32" y2="1615.45" stroke="#0a6de0" stroke-width="1.45" stroke-linecap="butt"/>
<line x1="1289.17" y1="1594.78" x2="1305.47" y2="1594.78" stroke="#0a6de0" stroke-width="1.45" stroke-linecap="butt"/>
<line x1="1289.17" y1="1615.45" x2="1305.47" y2="1615.45" stroke="#0a6de0" stroke-width="1.45" stroke-linecap="butt"/>
<line x1="1399.80" y1="1634.28" x2="1399.80" y2="1651.19" stroke="#0a6de0" stroke-width="1.45" stroke-linecap="butt"/>
<line x1="1391.65" y1="1634.28" x2="1407.95" y2="1634.28" stroke="#0a6de0" stroke-width="1.45" stroke-linecap="butt"/>
<line x1="1391.65" y1="1651.19" x2="1407.95" y2="1651.19" stroke="#0a6de0" stroke-width="1.45" stroke-linecap="butt"/>
<line x1="1502.28" y1="1657.90" x2="1502.28" y2="1672.56" stroke="#0a6de0" stroke-width="1.45" stroke-linecap="butt"/>
<line x1="1494.13" y1="1657.90" x2="1510.43" y2="1657.90" stroke="#0a6de0" stroke-width="1.45" stroke-linecap="butt"/>
<line x1="1494.13" y1="1672.56" x2="1510.43" y2="1672.56" stroke="#0a6de0" stroke-width="1.45" stroke-linecap="butt"/>
<line x1="1604.76" y1="1675.27" x2="1604.76" y2="1688.27" stroke="#0a6de0" stroke-width="1.45" stroke-linecap="butt"/>
<line x1="1596.61" y1="1675.27" x2="1612.91" y2="1675.27" stroke="#0a6de0" stroke-width="1.45" stroke-linecap="butt"/>
<line x1="1596.61" y1="1688.27" x2="1612.91" y2="1688.27" stroke="#0a6de0" stroke-width="1.45" stroke-linecap="butt"/>
<polygon points="682.44,1294.68 670.44,1313.68 694.44,1313.68" fill="#0a6de0"/>
<polygon points="784.92,1347.43 772.92,1366.43 796.92,1366.43" fill="#0a6de0"/>
<polygon points="887.40,1406.29 875.40,1425.29 899.40,1425.29" fill="#0a6de0"/>
<polygon points="989.88,1451.67 977.88,1470.67 1001.88,1470.67" fill="#0a6de0"/>
<polygon points="1092.36,1506.70 1080.36,1525.70 1104.36,1525.70" fill="#0a6de0"/>
<polygon points="1194.84,1554.74 1182.84,1573.74 1206.84,1573.74" fill="#0a6de0"/>
<polygon points="1297.32,1592.45 1285.32,1611.45 1309.32,1611.45" fill="#0a6de0"/>
<polygon points="1399.80,1630.07 1387.80,1649.07 1411.80,1649.07" fill="#0a6de0"/>
<polygon points="1502.28,1652.56 1490.28,1671.56 1514.28,1671.56" fill="#0a6de0"/>
<polygon points="1604.76,1669.10 1592.76,1688.10 1616.76,1688.10" fill="#0a6de0"/>
<line x1="682.44" y1="1201.80" x2="682.44" y2="1259.90" stroke="#0fab66" stroke-width="1.45" stroke-linecap="butt"/>
<line x1="674.29" y1="1201.80" x2="690.59" y2="1201.80" stroke="#0fab66" stroke-width="1.45" stroke-linecap="butt"/>
<line x1="674.29" y1="1259.90" x2="690.59" y2="1259.90" stroke="#0fab66" stroke-width="1.45" stroke-linecap="butt"/>
<line x1="784.92" y1="1253.48" x2="784.92" y2="1306.66" stroke="#0fab66" stroke-width="1.45" stroke-linecap="butt"/>
<line x1="776.77" y1="1253.48" x2="793.07" y2="1253.48" stroke="#0fab66" stroke-width="1.45" stroke-linecap="butt"/>
<line x1="776.77" y1="1306.66" x2="793.07" y2="1306.66" stroke="#0fab66" stroke-width="1.45" stroke-linecap="butt"/>
<line x1="887.40" y1="1316.85" x2="887.40" y2="1363.99" stroke="#0fab66" stroke-width="1.45" stroke-linecap="butt"/>
<line x1="879.25" y1="1316.85" x2="895.55" y2="1316.85" stroke="#0fab66" stroke-width="1.45" stroke-linecap="butt"/>
<line x1="879.25" y1="1363.99" x2="895.55" y2="1363.99" stroke="#0fab66" stroke-width="1.45" stroke-linecap="butt"/>
<line x1="989.88" y1="1348.13" x2="989.88" y2="1392.29" stroke="#0fab66" stroke-width="1.45" stroke-linecap="butt"/>
<line x1="981.73" y1="1348.13" x2="998.03" y2="1348.13" stroke="#0fab66" stroke-width="1.45" stroke-linecap="butt"/>
<line x1="981.73" y1="1392.29" x2="998.03" y2="1392.29" stroke="#0fab66" stroke-width="1.45" stroke-linecap="butt"/>
<line x1="1092.36" y1="1390.51" x2="1092.36" y2="1430.63" stroke="#0fab66" stroke-width="1.45" stroke-linecap="butt"/>
<line x1="1084.21" y1="1390.51" x2="1100.51" y2="1390.51" stroke="#0fab66" stroke-width="1.45" stroke-linecap="butt"/>
<line x1="1084.21" y1="1430.63" x2="1100.51" y2="1430.63" stroke="#0fab66" stroke-width="1.45" stroke-linecap="butt"/>
<line x1="1194.84" y1="1427.55" x2="1194.84" y2="1464.14" stroke="#0fab66" stroke-width="1.45" stroke-linecap="butt"/>
<line x1="1186.69" y1="1427.55" x2="1202.99" y2="1427.55" stroke="#0fab66" stroke-width="1.45" stroke-linecap="butt"/>
<line x1="1186.69" y1="1464.14" x2="1202.99" y2="1464.14" stroke="#0fab66" stroke-width="1.45" stroke-linecap="butt"/>
<line x1="1297.32" y1="1473.80" x2="1297.32" y2="1505.99" stroke="#0fab66" stroke-width="1.45" stroke-linecap="butt"/>
<line x1="1289.17" y1="1473.80" x2="1305.47" y2="1473.80" stroke="#0fab66" stroke-width="1.45" stroke-linecap="butt"/>
<line x1="1289.17" y1="1505.99" x2="1305.47" y2="1505.99" stroke="#0fab66" stroke-width="1.45" stroke-linecap="butt"/>
<line x1="1399.80" y1="1522.44" x2="1399.80" y2="1550.00" stroke="#0fab66" stroke-width="1.45" stroke-linecap="butt"/>
<line x1="1391.65" y1="1522.44" x2="1407.95" y2="1522.44" stroke="#0fab66" stroke-width="1.45" stroke-linecap="butt"/>
<line x1="1391.65" y1="1550.00" x2="1407.95" y2="1550.00" stroke="#0fab66" stroke-width="1.45" stroke-linecap="butt"/>
<line x1="1502.28" y1="1563.75" x2="1502.28" y2="1587.37" stroke="#0fab66" stroke-width="1.45" stroke-linecap="butt"/>
<line x1="1494.13" y1="1563.75" x2="1510.43" y2="1563.75" stroke="#0fab66" stroke-width="1.45" stroke-linecap="butt"/>
<line x1="1494.13" y1="1587.37" x2="1510.43" y2="1587.37" stroke="#0fab66" stroke-width="1.45" stroke-linecap="butt"/>
<line x1="1604.76" y1="1579.55" x2="1604.76" y2="1601.67" stroke="#0fab66" stroke-width="1.45" stroke-linecap="butt"/>
<line x1="1596.61" y1="1579.55" x2="1612.91" y2="1579.55" stroke="#0fab66" stroke-width="1.45" stroke-linecap="butt"/>
<line x1="1596.61" y1="1601.67" x2="1612.91" y2="1601.67" stroke="#0fab66" stroke-width="1.45" stroke-linecap="butt"/>
<polygon points="682.44,1243.51 670.44,1224.51 694.44,1224.51" fill="#0fab66"/>
<polygon points="784.92,1292.74 772.92,1273.74 796.92,1273.74" fill="#0fab66"/>
<polygon points="887.40,1353.09 875.40,1334.09 899.40,1334.09" fill="#0fab66"/>
<polygon points="989.88,1382.87 977.88,1363.87 1001.88,1363.87" fill="#0fab66"/>
<polygon points="1092.36,1423.24 1080.36,1404.24 1104.36,1404.24" fill="#0fab66"/>
<polygon points="1194.84,1458.51 1182.84,1439.51 1206.84,1439.51" fill="#0fab66"/>
<polygon points="1297.32,1502.56 1285.32,1483.56 1309.32,1483.56" fill="#0fab66"/>
<polygon points="1399.80,1548.88 1387.80,1529.88 1411.80,1529.88" fill="#0fab66"/>
<polygon points="1502.28,1588.23 1490.28,1569.23 1514.28,1569.23" fill="#0fab66"/>
<polygon points="1604.76,1603.28 1592.76,1584.28 1616.76,1584.28" fill="#0fab66"/>
<path d="M682.44,1412.81 L692.69,1419.50 L702.94,1426.09 L713.18,1432.57 L723.43,1438.95 L733.68,1445.22 L743.93,1451.39 L754.18,1457.47 L764.42,1463.44 L774.67,1469.31 L784.92,1475.09 L795.17,1480.77 L805.42,1486.36 L815.66,1491.85 L825.91,1497.25 L836.16,1502.55 L846.41,1507.77 L856.66,1512.89 L866.90,1517.92 L877.15,1522.87 L887.40,1527.73 L897.65,1532.50 L907.90,1537.18 L918.14,1541.78 L928.39,1546.30 L938.64,1550.74 L948.89,1555.09 L959.14,1559.36 L969.38,1563.56 L979.63,1567.67 L989.88,1571.71 L1000.13,1575.67 L1010.38,1579.56 L1020.62,1583.37 L1030.87,1587.11 L1041.12,1590.77 L1051.37,1594.37 L1061.62,1597.89 L1071.86,1601.34 L1082.11,1604.73 L1092.36,1608.05 L1102.61,1611.30 L1112.86,1614.48 L1123.10,1617.60 L1133.35,1620.66 L1143.60,1623.66 L1153.85,1626.59 L1164.10,1629.46 L1174.34,1632.28 L1184.59,1635.03 L1194.84,1637.73 L1205.09,1640.37 L1215.34,1642.95 L1225.58,1645.48 L1235.83,1647.96 L1246.08,1650.38 L1256.33,1652.76 L1266.58,1655.08 L1276.82,1657.35 L1287.07,1659.57 L1297.32,1661.75 L1307.57,1663.88 L1317.82,1665.96 L1328.06,1668.00 L1338.31,1670.00 L1348.56,1671.95 L1358.81,1673.86 L1369.06,1675.73 L1379.30,1677.56 L1389.55,1679.36 L1399.80,1681.11 L1410.05,1682.83 L1420.30,1684.51 L1430.54,1686.16 L1440.79,1687.77 L1451.04,1689.35 L1461.29,1690.90 L1471.54,1692.42 L1481.78,1693.91 L1492.03,1695.37 L1502.28,1696.81 L1512.53,1698.21 L1522.78,1699.59 L1533.02,1700.95 L1543.27,1702.28 L1553.52,1703.59 L1563.77,1704.88 L1574.02,1706.15 L1584.26,1707.39 L1594.51,1708.62 L1604.76,1709.83" fill="none" stroke="#fd3b41" stroke-width="3.50" stroke-linejoin="round"/>
<path d="M682.44,1307.47 L692.69,1312.76 L702.94,1318.06 L713.18,1323.38 L723.43,1328.72 L733.68,1334.07 L743.93,1339.44 L754.18,1344.82 L764.42,1350.21 L774.67,1355.61 L784.92,1361.01 L795.17,1366.42 L805.42,1371.84 L815.66,1377.26 L825.91,1382.68 L836.16,1388.10 L846.41,1393.52 L856.66,1398.93 L866.90,1404.34 L877.15,1409.75 L887.40,1415.14 L897.65,1420.53 L907.90,1425.91 L918.14,1431.27 L928.39,1436.62 L938.64,1441.95 L948.89,1447.27 L959.14,1452.57 L969.38,1457.84 L979.63,1463.10 L989.88,1468.33 L1000.13,1473.54 L1010.38,1478.72 L1020.62,1483.87 L1030.87,1489.00 L1041.12,1494.09 L1051.37,1499.15 L1061.62,1504.18 L1071.86,1509.17 L1082.11,1514.12 L1092.36,1519.04 L1102.61,1523.91 L1112.86,1528.75 L1123.10,1533.54 L1133.35,1538.28 L1143.60,1542.98 L1153.85,1547.63 L1164.10,1552.23 L1174.34,1556.78 L1184.59,1561.28 L1194.84,1565.73 L1205.09,1570.12 L1215.34,1574.45 L1225.58,1578.72 L1235.83,1582.93 L1246.08,1587.08 L1256.33,1591.17 L1266.58,1595.19 L1276.82,1599.15 L1287.07,1603.04 L1297.32,1606.86 L1307.57,1610.61 L1317.82,1614.28 L1328.06,1617.89 L1338.31,1621.41 L1348.56,1624.86 L1358.81,1628.23 L1369.06,1631.53 L1379.30,1634.73 L1389.55,1637.86 L1399.80,1640.90 L1410.05,1643.86 L1420.30,1646.72 L1430.54,1649.50 L1440.79,1652.19 L1451.04,1654.78 L1461.29,1657.28 L1471.54,1659.69 L1481.78,1662.00 L1492.03,1664.20 L1502.28,1666.31 L1512.53,1668.32 L1522.78,1670.23 L1533.02,1672.03 L1543.27,1673.72 L1553.52,1675.30 L1563.77,1676.78 L1574.02,1678.15 L1584.26,1679.40 L1594.51,1680.54 L1604.76,1681.56" fill="none" stroke="#0a6de0" stroke-width="3.50" stroke-linejoin="round"/>
<path d="M682.44,1233.89 L692.69,1238.75 L702.94,1243.58 L713.18,1248.40 L723.43,1253.20 L733.68,1257.99 L743.93,1262.75 L754.18,1267.50 L764.42,1272.23 L774.67,1276.94 L784.92,1281.64 L795.17,1286.32 L805.42,1290.97 L815.66,1295.62 L825.91,1300.24 L836.16,1304.84 L846.41,1309.43 L856.66,1314.00 L866.90,1318.55 L877.15,1323.09 L887.40,1327.60 L897.65,1332.10 L907.90,1336.58 L918.14,1341.04 L928.39,1345.49 L938.64,1349.91 L948.89,1354.32 L959.14,1358.71 L969.38,1363.08 L979.63,1367.43 L989.88,1371.77 L1000.13,1376.08 L1010.38,1380.38 L1020.62,1384.66 L1030.87,1388.93 L1041.12,1393.17 L1051.37,1397.40 L1061.62,1401.60 L1071.86,1405.79 L1082.11,1409.96 L1092.36,1414.12 L1102.61,1418.25 L1112.86,1422.37 L1123.10,1426.46 L1133.35,1430.54 L1143.60,1434.61 L1153.85,1438.65 L1164.10,1442.67 L1174.34,1446.68 L1184.59,1450.67 L1194.84,1454.64 L1205.09,1458.59 L1215.34,1462.52 L1225.58,1466.43 L1235.83,1470.33 L1246.08,1474.20 L1256.33,1478.06 L1266.58,1481.90 L1276.82,1485.72 L1287.07,1489.53 L1297.32,1493.31 L1307.57,1497.07 L1317.82,1500.82 L1328.06,1504.55 L1338.31,1508.26 L1348.56,1511.95 L1358.81,1515.62 L1369.06,1519.27 L1379.30,1522.91 L1389.55,1526.53 L1399.80,1530.12 L1410.05,1533.70 L1420.30,1537.26 L1430.54,1540.80 L1440.79,1544.32 L1451.04,1547.83 L1461.29,1551.31 L1471.54,1554.78 L1481.78,1558.22 L1492.03,1561.65 L1502.28,1565.06 L1512.53,1568.45 L1522.78,1571.82 L1533.02,1575.17 L1543.27,1578.51 L1553.52,1581.82 L1563.77,1585.12 L1574.02,1588.39 L1584.26,1591.65 L1594.51,1594.89 L1604.76,1598.11" fill="none" stroke="#0fab66" stroke-width="3.50" stroke-linejoin="round"/>
<line x1="682.44" y1="1811.80" x2="682.44" y2="1804.80" stroke="#000000" stroke-width="2.90" stroke-linecap="butt"/>
<line x1="733.68" y1="1811.80" x2="733.68" y2="1797.30" stroke="#000000" stroke-width="2.90" stroke-linecap="butt"/>
<line x1="784.92" y1="1811.80" x2="784.92" y2="1804.80" stroke="#000000" stroke-width="2.90" stroke-linecap="butt"/>
<line x1="836.16" y1="1811.80" x2="836.16" y2="1797.30" stroke="#000000" stroke-width="2.90" stroke-linecap="butt"/>
<line x1="887.40" y1="1811.80" x2="887.40" y2="1804.80" stroke="#000000" stroke-width="2.90" stroke-linecap="butt"/>
<line x1="938.64" y1="1811.80" x2="938.64" y2="1797.30" stroke="#000000" stroke-width="2.90" stroke-linecap="butt"/>
<line x1="989.88" y1="1811.80" x2="989.88" y2="1804.80" stroke="#000000" stroke-width="2.90" stroke-linecap="butt"/>
<line x1="1041.12" y1="1811.80" x2="1041.12" y2="1797.30" stroke="#000000" stroke-width="2.90" stroke-linecap="butt"/>
<line x1="1092.36" y1="1811.80" x2="1092.36" y2="1804.80" stroke="#000000" stroke-width="2.90" stroke-linecap="butt"/>
<line x1="1143.60" y1="1811.80" x2="1143.60" y2="1797.30" stroke="#000000" stroke-width="2.90" stroke-linecap="butt"/>
<line x1="1194.84" y1="1811.80" x2="1194.84" y2="1804.80" stroke="#000000" stroke-width="2.90" stroke-linecap="butt"/>
<line x1="1246.08" y1="1811.80" x2="1246.08" y2="1797.30" stroke="#000000" stroke-width="2.90" stroke-linecap="butt"/>
<line x1="1297.32" y1="1811.80" x2="1297.32" y2="1804.80" stroke="#000000" stroke-width="2.90" stroke-linecap="butt"/>
<line x1="1348.56" y1="1811.80" x2="1348.56" y2="1797.30" stroke="#000000" stroke-width="2.90" stroke-linecap="butt"/>
<line x1="1399.80" y1="1811.80" x2="1399.80" y2="1804.80" stroke="#000000" stroke-width="2.90" stroke-linecap="butt"/>
<line x1="1451.04" y1="1811.80" x2="1451.04" y2="1797.30" stroke="#000000" stroke-width="2.90" stroke-linecap="butt"/>
<line x1="1502.28" y1="1811.80" x2="1502.28" y2="1804.80" stroke="#000000" stroke-width="2.90" stroke-linecap="butt"/>
<line x1="1553.52" y1="1811.80" x2="1553.52" y2="1797.30" stroke="#000000" stroke-width="2.90" stroke-linecap="butt"/>
<line x1="1604.76" y1="1811.80" x2="1604.76" y2="1804.80" stroke="#000000" stroke-width="2.90" stroke-linecap="butt"/>
<line x1="631.20" y1="1772.61" x2="639.20" y2="1772.61" stroke="#000000" stroke-width="3.30" stroke-linecap="butt"/>
<line x1="631.20" y1="1733.42" x2="647.70" y2="1733.42" stroke="#000000" stroke-width="3.30" stroke-linecap="butt"/>
<line x1="631.20" y1="1694.23" x2="639.20" y2="1694.23" stroke="#000000" stroke-width="3.30" stroke-linecap="butt"/>
<line x1="631.20" y1="1655.04" x2="647.70" y2="1655.04" stroke="#000000" stroke-width="3.30" stroke-linecap="butt"/>
<line x1="631.20" y1="1615.85" x2="639.20" y2="1615.85" stroke="#000000" stroke-width="3.30" stroke-linecap="butt"/>
<line x1="631.20" y1="1576.66" x2="647.70" y2="1576.66" stroke="#000000" stroke-width="3.30" stroke-linecap="butt"/>
<line x1="631.20" y1="1537.47" x2="639.20" y2="1537.47" stroke="#000000" stroke-width="3.30" stroke-linecap="butt"/>
<line x1="631.20" y1="1498.28" x2="647.70" y2="1498.28" stroke="#000000" stroke-width="3.30" stroke-linecap="butt"/>
<line x1="631.20" y1="1459.09" x2="639.20" y2="1459.09" stroke="#000000" stroke-width="3.30" stroke-linecap="butt"/>
<line x1="631.20" y1="1419.90" x2="647.70" y2="1419.90" stroke="#000000" stroke-width="3.30" stroke-linecap="butt"/>
<line x1="631.20" y1="1380.71" x2="639.20" y2="1380.71" stroke="#000000" stroke-width="3.30" stroke-linecap="butt"/>
<line x1="631.20" y1="1341.52" x2="647.70" y2="1341.52" stroke="#000000" stroke-width="3.30" stroke-linecap="butt"/>
<line x1="631.20" y1="1302.33" x2="639.20" y2="1302.33" stroke="#000000" stroke-width="3.30" stroke-linecap="butt"/>
<line x1="631.20" y1="1263.14" x2="647.70" y2="1263.14" stroke="#000000" stroke-width="3.30" stroke-linecap="butt"/>
<line x1="631.20" y1="1223.95" x2="639.20" y2="1223.95" stroke="#000000" stroke-width="3.30" stroke-linecap="butt"/>
<line x1="631.20" y1="1184.76" x2="647.70" y2="1184.76" stroke="#000000" stroke-width="3.30" stroke-linecap="butt"/>
<line x1="631.20" y1="1145.57" x2="639.20" y2="1145.57" stroke="#000000" stroke-width="3.30" stroke-linecap="butt"/>
<line x1="631.20" y1="1106.38" x2="647.70" y2="1106.38" stroke="#000000" stroke-width="3.30" stroke-linecap="butt"/>
<line x1="631.20" y1="1067.19" x2="639.20" y2="1067.19" stroke="#000000" stroke-width="3.30" stroke-linecap="butt"/>
<line x1="629.70" y1="1028.00" x2="1657.50" y2="1028.00" stroke="#000000" stroke-width="3.30" stroke-linecap="butt"/>
<line x1="629.70" y1="1811.80" x2="1657.50" y2="1811.80" stroke="#000000" stroke-width="3.30" stroke-linecap="butt"/>
<line x1="631.20" y1="1028.00" x2="631.20" y2="1811.80" stroke="#000000" stroke-width="3.00" stroke-linecap="butt"/>
<line x1="1656.00" y1="1028.00" x2="1656.00" y2="1811.80" stroke="#000000" stroke-width="3.00" stroke-linecap="butt"/>
<ellipse cx="1116.75" cy="1137.20" rx="10.10" ry="9.60" fill="#fd3b41"/>
<polygon points="1116.75,1178.05 1104.60,1197.85 1128.90,1197.85" fill="#0a6de0"/>
<polygon points="1116.75,1258.45 1104.60,1238.65 1128.90,1238.65" fill="#0fab66"/>
<line x1="852.50" y1="1309.50" x2="833.29" y2="1155.34" stroke="#009a0c" stroke-width="4.10" stroke-linecap="butt"/>
<polygon points="830.99,1136.96 838.81,1155.76 828.03,1157.11" fill="#009a0c" stroke="#009a0c" stroke-width="1.80" stroke-linejoin="round"/>
<line x1="1050.00" y1="1490.50" x2="1144.11" y2="1388.33" stroke="#0433ff" stroke-width="4.10" stroke-linecap="butt"/>
<polygon points="1156.66,1374.71 1147.36,1392.82 1139.37,1385.46" fill="#0433ff" stroke="#0433ff" stroke-width="1.80" stroke-linejoin="round"/>
<line x1="923.75" y1="1562.00" x2="863.81" y2="1639.30" stroke="#ff0000" stroke-width="4.10" stroke-linecap="butt"/>
<polygon points="852.46,1653.94 860.19,1635.10 868.78,1641.76" fill="#ff0000" stroke="#ff0000" stroke-width="1.80" stroke-linejoin="round"/>
<text transform="translate(127.33 854.70) scale(0.9700 1)" font-size="44.00" fill="#000000" stroke="#000000" stroke-width="0.35"><tspan>0</tspan></text>
<text transform="translate(207.74 854.70) scale(0.9700 1)" font-size="44.00" fill="#000000" stroke="#000000" stroke-width="0.35"><tspan>10</tspan></text>
<text transform="translate(300.91 854.70) scale(0.9700 1)" font-size="44.00" fill="#000000" stroke="#000000" stroke-width="0.35"><tspan>20</tspan></text>
<text transform="translate(393.04 854.70) scale(0.9700 1)" font-size="44.00" fill="#000000" stroke="#000000" stroke-width="0.35"><tspan>30</tspan></text>
<text transform="translate(485.80 854.70) scale(0.9700 1)" font-size="44.00" fill="#000000" stroke="#000000" stroke-width="0.35"><tspan>40</tspan></text>
<text transform="translate(577.22 854.70) scale(0.9700 1)" font-size="44.00" fill="#000000" stroke="#000000" stroke-width="0.35"><tspan>50</tspan></text>
<text transform="translate(669.71 854.70) scale(0.9700 1)" font-size="44.00" fill="#000000" stroke="#000000" stroke-width="0.35"><tspan>60</tspan></text>
<text transform="translate(761.43 854.70) scale(0.9700 1)" font-size="44.00" fill="#000000" stroke="#000000" stroke-width="0.35"><tspan>70</tspan></text>
<text transform="translate(854.26 854.70) scale(0.9700 1)" font-size="44.00" fill="#000000" stroke="#000000" stroke-width="0.35"><tspan>80</tspan></text>
<text transform="translate(946.56 854.70) scale(0.9700 1)" font-size="44.00" fill="#000000" stroke="#000000" stroke-width="0.35"><tspan>90</tspan></text>
<text transform="translate(1026.87 854.70) scale(0.9700 1)" font-size="44.00" fill="#000000" stroke="#000000" stroke-width="0.35"><tspan>100</tspan></text>
<text transform="translate(69.23 818.80) scale(0.9500 1)" font-size="45.00" fill="#000000" stroke="#000000" stroke-width="0.36"><tspan>0.0</tspan></text>
<text transform="translate(69.29 625.70) scale(0.9500 1)" font-size="45.00" fill="#000000" stroke="#000000" stroke-width="0.36"><tspan>0.5</tspan></text>
<text transform="translate(69.23 432.60) scale(0.9500 1)" font-size="45.00" fill="#000000" stroke="#000000" stroke-width="0.36"><tspan>1.0</tspan></text>
<text transform="translate(69.29 239.50) scale(0.9500 1)" font-size="45.00" fill="#000000" stroke="#000000" stroke-width="0.36"><tspan>1.5</tspan></text>
<text transform="translate(69.23 46.40) scale(0.9500 1)" font-size="45.00" fill="#000000" stroke="#000000" stroke-width="0.36"><tspan>2.0</tspan></text>
<text transform="translate(639.96 152.20) scale(1.0284 1)" font-size="38.00" fill="#000000" stroke="#000000" stroke-width="0.30"><tspan>Without</tspan></text>
<text transform="translate(777.10 152.20) scale(1.0203 1)" font-size="38.00" fill="#000000" stroke="#000000" stroke-width="0.30"><tspan>Asphalt</tspan></text>
<text transform="translate(906.48 152.20) scale(1.0188 1)" font-size="38.00" fill="#000000" stroke="#000000" stroke-width="0.30"><tspan>modifier</tspan></text>
<text transform="translate(638.87 206.40) scale(1.0220 1)" font-size="38.00" fill="#000000" stroke="#000000" stroke-width="0.30"><tspan>Butadiene</tspan></text>
<text transform="translate(803.33 206.40) scale(1.0427 1)" font-size="38.00" fill="#000000" stroke="#000000" stroke-width="0.30"><tspan>styrene</tspan></text>
<text transform="translate(925.95 206.40) scale(1.0531 1)" font-size="38.00" fill="#000000" stroke="#000000" stroke-width="0.30"><tspan>rubber</tspan></text>
<text transform="translate(638.85 259.00) scale(1.0407 1)" font-size="38.00" fill="#000000" stroke="#000000" stroke-width="0.30"><tspan>Polyurethane</tspan></text>
<text transform="translate(160.79 102.20) scale(1.0022 1)" font-size="32.00" fill="#009a0c" stroke="#009a0c" stroke-width="0.54"><tspan font-style="italic">f</tspan><tspan font-style="italic" font-size="23.04" dy="8.64">STS</tspan><tspan dy="-8.64">=1.46</tspan><tspan font-style="italic">m</tspan><tspan font-style="italic" font-size="23.04" dy="-13.12">3</tspan><tspan dy="13.12">−1.61</tspan><tspan font-style="italic">m</tspan><tspan font-style="italic" font-size="23.04" dy="-13.12">2</tspan><tspan dy="13.12">−1.07</tspan><tspan font-style="italic">m</tspan><tspan>+1.64</tspan></text>
<text transform="translate(166.09 160.40) scale(0.9650 1)" font-size="32.00" fill="#009a0c" stroke="#009a0c" stroke-width="0.54"><tspan font-style="italic">R</tspan><tspan font-style="italic" font-size="23.04" dy="-13.12">2</tspan><tspan dy="13.12">=1.0</tspan></text>
<text transform="translate(589.04 366.00) scale(1.0033 1)" font-size="32.00" fill="#0433ff" stroke="#0433ff" stroke-width="0.54"><tspan font-style="italic">f</tspan><tspan font-style="italic" font-size="23.04" dy="8.64">STS</tspan><tspan dy="-8.64">=0.61</tspan><tspan font-style="italic">m</tspan><tspan font-style="italic" font-size="23.04" dy="-13.12">3</tspan><tspan dy="13.12">−0.001</tspan><tspan font-style="italic">m</tspan><tspan font-style="italic" font-size="23.04" dy="-13.12">2</tspan><tspan dy="13.12">−1.79</tspan><tspan font-style="italic">m</tspan><tspan>+1.52</tspan></text>
<text transform="translate(594.34 423.00) scale(0.9764 1)" font-size="32.00" fill="#0433ff" stroke="#0433ff" stroke-width="0.54"><tspan font-style="italic">R</tspan><tspan font-style="italic" font-size="23.04" dy="-13.12">2</tspan><tspan dy="13.12">=1.0</tspan></text>
<text transform="translate(200.80 686.25) scale(0.9990 1)" font-size="32.00" fill="#ff0000" stroke="#ff0000" stroke-width="0.54"><tspan font-style="italic">f</tspan><tspan font-style="italic" font-size="23.04" dy="8.64">STS</tspan><tspan dy="-8.64">=−1.64</tspan><tspan font-style="italic">m</tspan><tspan font-style="italic" font-size="23.04" dy="-13.12">3</tspan><tspan dy="13.12">+3.6</tspan><tspan font-style="italic">m</tspan><tspan font-style="italic" font-size="23.04" dy="-13.12">2</tspan><tspan dy="13.12">−2.99</tspan><tspan font-style="italic">m</tspan><tspan>+1.29</tspan></text>
<text transform="translate(206.09 742.50) scale(0.9764 1)" font-size="32.00" fill="#ff0000" stroke="#ff0000" stroke-width="0.54"><tspan font-style="italic">R</tspan><tspan font-style="italic" font-size="23.04" dy="-13.12">2</tspan><tspan dy="13.12">=1.0</tspan></text>
<text transform="translate(398.38 887.50) scale(1.1339 1)" font-size="39.50" fill="#000000" stroke="#000000" stroke-width="0.40"><tspan>Recycled</tspan></text>
<text transform="translate(576.27 887.50) scale(1.2081 1)" font-size="39.50" fill="#000000" stroke="#000000" stroke-width="0.40"><tspan>asphalt</tspan></text>
<text transform="translate(722.63 887.50) scale(1.0650 1)" font-size="39.50" fill="#000000" stroke="#000000" stroke-width="0.40"><tspan>(%)</tspan></text>
<text transform="translate(50.80 725.40) rotate(-90) scale(1.0182 1)" font-size="47.50" fill="#000000" stroke="#000000" stroke-width="0.48"><tspan>Splitting</tspan></text>
<text transform="translate(50.80 546.98) rotate(-90) scale(1.0086 1)" font-size="47.50" fill="#000000" stroke="#000000" stroke-width="0.48"><tspan>tensile</tspan></text>
<text transform="translate(50.80 410.99) rotate(-90) scale(1.0474 1)" font-size="47.50" fill="#000000" stroke="#000000" stroke-width="0.48"><tspan>strength</tspan></text>
<text transform="translate(50.80 239.59) rotate(-90) scale(0.9798 1)" font-size="47.50" fill="#000000" stroke="#000000" stroke-width="0.48"><tspan>(MPa)</tspan></text>
<text transform="translate(223.49 964.60) scale(0.9542 1)" font-size="54.50" fill="#000000" stroke="#000000" stroke-width="0.22"><tspan>(</tspan><tspan font-weight="bold">a</tspan><tspan>)</tspan></text>
<text transform="translate(295.97 964.60) scale(1.0904 1)" font-size="54.50" fill="#000000" stroke="#000000" stroke-width="0.22"><tspan>Splitting</tspan></text>
<text transform="translate(515.68 964.60) scale(1.0643 1)" font-size="54.50" fill="#000000" stroke="#000000" stroke-width="0.22"><tspan>tensile</tspan></text>
<text transform="translate(678.71 964.60) scale(1.1161 1)" font-size="54.50" fill="#000000" stroke="#000000" stroke-width="0.22"><tspan>strength</tspan></text>
<text transform="translate(1257.90 850.90) scale(0.9550 1)" font-size="44.00" fill="#000000" stroke="#000000" stroke-width="0.35"><tspan>0</tspan></text>
<text transform="translate(1335.91 850.90) scale(0.9550 1)" font-size="44.00" fill="#000000" stroke="#000000" stroke-width="0.35"><tspan>10</tspan></text>
<text transform="translate(1426.49 850.90) scale(0.9550 1)" font-size="44.00" fill="#000000" stroke="#000000" stroke-width="0.35"><tspan>20</tspan></text>
<text transform="translate(1516.03 850.90) scale(0.9550 1)" font-size="44.00" fill="#000000" stroke="#000000" stroke-width="0.35"><tspan>30</tspan></text>
<text transform="translate(1606.20 850.90) scale(0.9550 1)" font-size="44.00" fill="#000000" stroke="#000000" stroke-width="0.35"><tspan>40</tspan></text>
<text transform="translate(1695.06 850.90) scale(0.9550 1)" font-size="44.00" fill="#000000" stroke="#000000" stroke-width="0.35"><tspan>50</tspan></text>
<text transform="translate(1784.97 850.90) scale(0.9550 1)" font-size="44.00" fill="#000000" stroke="#000000" stroke-width="0.35"><tspan>60</tspan></text>
<text transform="translate(1874.11 850.90) scale(0.9550 1)" font-size="44.00" fill="#000000" stroke="#000000" stroke-width="0.35"><tspan>70</tspan></text>
<text transform="translate(1964.35 850.90) scale(0.9550 1)" font-size="44.00" fill="#000000" stroke="#000000" stroke-width="0.35"><tspan>80</tspan></text>
<text transform="translate(2054.07 850.90) scale(0.9550 1)" font-size="44.00" fill="#000000" stroke="#000000" stroke-width="0.35"><tspan>90</tspan></text>
<text transform="translate(2131.99 850.90) scale(0.9550 1)" font-size="44.00" fill="#000000" stroke="#000000" stroke-width="0.35"><tspan>100</tspan></text>
<text transform="translate(1200.35 814.30) scale(0.9550 1)" font-size="44.00" fill="#000000" stroke="#000000" stroke-width="0.35"><tspan>0.0</tspan></text>
<text transform="translate(1200.63 689.15) scale(0.9550 1)" font-size="44.00" fill="#000000" stroke="#000000" stroke-width="0.35"><tspan>0.5</tspan></text>
<text transform="translate(1200.35 564.00) scale(0.9550 1)" font-size="44.00" fill="#000000" stroke="#000000" stroke-width="0.35"><tspan>1.0</tspan></text>
<text transform="translate(1200.63 438.85) scale(0.9550 1)" font-size="44.00" fill="#000000" stroke="#000000" stroke-width="0.35"><tspan>1.5</tspan></text>
<text transform="translate(1200.35 313.70) scale(0.9550 1)" font-size="44.00" fill="#000000" stroke="#000000" stroke-width="0.35"><tspan>2.0</tspan></text>
<text transform="translate(1200.63 188.55) scale(0.9550 1)" font-size="44.00" fill="#000000" stroke="#000000" stroke-width="0.35"><tspan>2.5</tspan></text>
<text transform="translate(1200.35 63.40) scale(0.9550 1)" font-size="44.00" fill="#000000" stroke="#000000" stroke-width="0.35"><tspan>3.0</tspan></text>
<text transform="translate(1716.96 175.70) scale(1.0250 1)" font-size="37.00" fill="#000000" stroke="#000000" stroke-width="0.30"><tspan>Without</tspan></text>
<text transform="translate(1850.37 175.70) scale(1.0204 1)" font-size="37.00" fill="#000000" stroke="#000000" stroke-width="0.30"><tspan>Asphalt</tspan></text>
<text transform="translate(1975.98 175.70) scale(1.0167 1)" font-size="37.00" fill="#000000" stroke="#000000" stroke-width="0.30"><tspan>modifier</tspan></text>
<text transform="translate(1715.90 227.50) scale(1.0166 1)" font-size="37.00" fill="#000000" stroke="#000000" stroke-width="0.30"><tspan>Butadiene</tspan></text>
<text transform="translate(1875.39 227.50) scale(1.0377 1)" font-size="37.00" fill="#000000" stroke="#000000" stroke-width="0.30"><tspan>styrene</tspan></text>
<text transform="translate(1994.73 227.50) scale(1.0470 1)" font-size="37.00" fill="#000000" stroke="#000000" stroke-width="0.30"><tspan>rubber</tspan></text>
<text transform="translate(1715.88 278.75) scale(1.0374 1)" font-size="37.00" fill="#000000" stroke="#000000" stroke-width="0.30"><tspan>Polyurethane</tspan></text>
<text transform="translate(1285.30 103.00) scale(1.0054 1)" font-size="31.00" fill="#009a0c" stroke="#009a0c" stroke-width="0.53"><tspan font-style="italic">f</tspan><tspan font-style="italic" font-size="22.32" dy="8.37">t</tspan><tspan dy="-8.37">=−2.11</tspan><tspan font-style="italic">m</tspan><tspan font-style="italic" font-size="22.32" dy="-12.71">3</tspan><tspan dy="12.71">+5.25</tspan><tspan font-style="italic">m</tspan><tspan font-style="italic" font-size="22.32" dy="-12.71">2</tspan><tspan dy="12.71">−5.34</tspan><tspan font-style="italic">m</tspan><tspan>+2.68</tspan></text>
<text transform="translate(1289.84 158.75) scale(0.9848 1)" font-size="31.00" fill="#009a0c" stroke="#009a0c" stroke-width="0.53"><tspan font-style="italic">R</tspan><tspan font-style="italic" font-size="22.32" dy="-12.71">2</tspan><tspan dy="12.71">=0.99</tspan></text>
<text transform="translate(1655.06 410.00) scale(1.0032 1)" font-size="31.00" fill="#0433ff" stroke="#0433ff" stroke-width="0.53"><tspan font-style="italic">f</tspan><tspan font-style="italic" font-size="22.32" dy="8.37">t</tspan><tspan dy="-8.37">=0.41</tspan><tspan font-style="italic">m</tspan><tspan font-style="italic" font-size="22.32" dy="-12.71">3</tspan><tspan dy="12.71">−0.31</tspan><tspan font-style="italic">m</tspan><tspan font-style="italic" font-size="22.32" dy="-12.71">2</tspan><tspan dy="12.71">−1.34</tspan><tspan font-style="italic">m</tspan><tspan>+1.63</tspan></text>
<text transform="translate(1658.59 466.25) scale(0.9872 1)" font-size="31.00" fill="#0433ff" stroke="#0433ff" stroke-width="0.53"><tspan font-style="italic">R</tspan><tspan font-style="italic" font-size="22.32" dy="-12.71">2</tspan><tspan dy="12.71">=1.0</tspan></text>
<text transform="translate(1341.56 705.50) scale(1.0005 1)" font-size="31.00" fill="#ff0000" stroke="#ff0000" stroke-width="0.53"><tspan font-style="italic">f</tspan><tspan font-style="italic" font-size="22.32" dy="8.37">t</tspan><tspan dy="-8.37">=−2.68</tspan><tspan font-style="italic">m</tspan><tspan font-style="italic" font-size="22.32" dy="-12.71">3</tspan><tspan dy="12.71">+4.81</tspan><tspan font-style="italic">m</tspan><tspan font-style="italic" font-size="22.32" dy="-12.71">2</tspan><tspan dy="12.71">−3.24</tspan><tspan font-style="italic">m</tspan><tspan>+1.35</tspan></text>
<text transform="translate(1346.34 762.00) scale(0.9823 1)" font-size="31.00" fill="#ff0000" stroke="#ff0000" stroke-width="0.53"><tspan font-style="italic">R</tspan><tspan font-style="italic" font-size="22.32" dy="-12.71">2</tspan><tspan dy="12.71">=0.99</tspan></text>
<text transform="translate(1519.42 888.60) scale(1.1015 1)" font-size="39.50" fill="#000000" stroke="#000000" stroke-width="0.40"><tspan>Recycled</tspan></text>
<text transform="translate(1692.61 888.60) scale(1.1741 1)" font-size="39.50" fill="#000000" stroke="#000000" stroke-width="0.40"><tspan>asphalt</tspan></text>
<text transform="translate(1835.17 888.60) scale(1.0425 1)" font-size="39.50" fill="#000000" stroke="#000000" stroke-width="0.40"><tspan>(%)</tspan></text>
<text transform="translate(1190.40 653.05) rotate(-90) scale(1.0175 1)" font-size="45.50" fill="#000000" stroke="#000000" stroke-width="0.46"><tspan>Flexural</tspan></text>
<text transform="translate(1190.40 488.63) rotate(-90) scale(1.0661 1)" font-size="45.50" fill="#000000" stroke="#000000" stroke-width="0.46"><tspan>strength</tspan></text>
<text transform="translate(1190.40 320.07) rotate(-90) scale(0.9761 1)" font-size="45.50" fill="#000000" stroke="#000000" stroke-width="0.46"><tspan>(MPa)</tspan></text>
<text transform="translate(1429.86 961.90) scale(1.0490 1)" font-size="54.50" fill="#000000" stroke="#000000" stroke-width="0.22"><tspan>(</tspan><tspan font-weight="bold">b</tspan><tspan>)</tspan></text>
<text transform="translate(1512.74 961.90) scale(1.0594 1)" font-size="54.50" fill="#000000" stroke="#000000" stroke-width="0.22"><tspan>Flexural</tspan></text>
<text transform="translate(1717.85 961.90) scale(1.1178 1)" font-size="54.50" fill="#000000" stroke="#000000" stroke-width="0.22"><tspan>strength</tspan></text>
<text transform="translate(619.41 1859.20) scale(1.0600 1)" font-size="44.50" fill="#000000" stroke="#000000" stroke-width="0.36"><tspan>0</tspan></text>
<text transform="translate(708.89 1859.20) scale(1.0600 1)" font-size="44.50" fill="#000000" stroke="#000000" stroke-width="0.36"><tspan>10</tspan></text>
<text transform="translate(812.43 1859.20) scale(1.0600 1)" font-size="44.50" fill="#000000" stroke="#000000" stroke-width="0.36"><tspan>20</tspan></text>
<text transform="translate(914.81 1859.20) scale(1.0600 1)" font-size="44.50" fill="#000000" stroke="#000000" stroke-width="0.36"><tspan>30</tspan></text>
<text transform="translate(1017.92 1859.20) scale(1.0600 1)" font-size="44.50" fill="#000000" stroke="#000000" stroke-width="0.36"><tspan>40</tspan></text>
<text transform="translate(1119.54 1859.20) scale(1.0600 1)" font-size="44.50" fill="#000000" stroke="#000000" stroke-width="0.36"><tspan>50</tspan></text>
<text transform="translate(1222.35 1859.20) scale(1.0600 1)" font-size="44.50" fill="#000000" stroke="#000000" stroke-width="0.36"><tspan>60</tspan></text>
<text transform="translate(1324.30 1859.20) scale(1.0600 1)" font-size="44.50" fill="#000000" stroke="#000000" stroke-width="0.36"><tspan>70</tspan></text>
<text transform="translate(1427.46 1859.20) scale(1.0600 1)" font-size="44.50" fill="#000000" stroke="#000000" stroke-width="0.36"><tspan>80</tspan></text>
<text transform="translate(1530.05 1859.20) scale(1.0600 1)" font-size="44.50" fill="#000000" stroke="#000000" stroke-width="0.36"><tspan>90</tspan></text>
<text transform="translate(1619.43 1859.20) scale(1.0600 1)" font-size="44.50" fill="#000000" stroke="#000000" stroke-width="0.36"><tspan>100</tspan></text>
<text transform="translate(589.82 1821.60) scale(1.0600 1)" font-size="45.00" fill="#000000" stroke="#000000" stroke-width="0.36"><tspan>0</tspan></text>
<text transform="translate(590.84 1743.22) scale(1.0600 1)" font-size="45.00" fill="#000000" stroke="#000000" stroke-width="0.36"><tspan>1</tspan></text>
<text transform="translate(590.60 1664.84) scale(1.0600 1)" font-size="45.00" fill="#000000" stroke="#000000" stroke-width="0.36"><tspan>2</tspan></text>
<text transform="translate(589.89 1586.46) scale(1.0600 1)" font-size="45.00" fill="#000000" stroke="#000000" stroke-width="0.36"><tspan>3</tspan></text>
<text transform="translate(588.72 1508.08) scale(1.0600 1)" font-size="45.00" fill="#000000" stroke="#000000" stroke-width="0.36"><tspan>4</tspan></text>
<text transform="translate(589.89 1429.70) scale(1.0600 1)" font-size="45.00" fill="#000000" stroke="#000000" stroke-width="0.36"><tspan>5</tspan></text>
<text transform="translate(589.54 1351.32) scale(1.0600 1)" font-size="45.00" fill="#000000" stroke="#000000" stroke-width="0.36"><tspan>6</tspan></text>
<text transform="translate(589.54 1272.94) scale(1.0600 1)" font-size="45.00" fill="#000000" stroke="#000000" stroke-width="0.36"><tspan>7</tspan></text>
<text transform="translate(589.86 1194.56) scale(1.0600 1)" font-size="45.00" fill="#000000" stroke="#000000" stroke-width="0.36"><tspan>8</tspan></text>
<text transform="translate(589.94 1116.18) scale(1.0600 1)" font-size="45.00" fill="#000000" stroke="#000000" stroke-width="0.36"><tspan>9</tspan></text>
<text transform="translate(565.95 1037.80) scale(1.0600 1)" font-size="45.00" fill="#000000" stroke="#000000" stroke-width="0.36"><tspan>10</tspan></text>
<text transform="translate(1179.96 1151.25) scale(1.1363 1)" font-size="38.00" fill="#000000" stroke="#000000" stroke-width="0.30"><tspan>Without</tspan></text>
<text transform="translate(1331.56 1151.25) scale(1.1415 1)" font-size="38.00" fill="#000000" stroke="#000000" stroke-width="0.30"><tspan>Asphalt</tspan></text>
<text transform="translate(1476.37 1151.25) scale(1.1326 1)" font-size="38.00" fill="#000000" stroke="#000000" stroke-width="0.30"><tspan>modifier</tspan></text>
<text transform="translate(1178.76 1205.00) scale(1.1209 1)" font-size="38.00" fill="#000000" stroke="#000000" stroke-width="0.30"><tspan>Butadiene</tspan></text>
<text transform="translate(1360.63 1205.00) scale(1.1669 1)" font-size="38.00" fill="#000000" stroke="#000000" stroke-width="0.30"><tspan>styrene</tspan></text>
<text transform="translate(1497.59 1205.00) scale(1.1630 1)" font-size="38.00" fill="#000000" stroke="#000000" stroke-width="0.30"><tspan>rubber</tspan></text>
<text transform="translate(1178.72 1259.50) scale(1.1542 1)" font-size="38.00" fill="#000000" stroke="#000000" stroke-width="0.30"><tspan>Polyurethane</tspan></text>
<text transform="translate(683.25 1103.00) scale(1.1035 1)" font-size="32.00" fill="#009a0c" stroke="#009a0c" stroke-width="0.54"><tspan font-style="italic">f</tspan><tspan font-style="italic" font-size="23.04" dy="8.64">cu</tspan><tspan dy="-8.64">=−5.12</tspan><tspan font-style="italic">m</tspan><tspan font-style="italic" font-size="23.04" dy="-13.12">3</tspan><tspan dy="13.12">+9.81</tspan><tspan font-style="italic">m</tspan><tspan font-style="italic" font-size="23.04" dy="-13.12">2</tspan><tspan dy="13.12">−10.56</tspan><tspan font-style="italic">m</tspan><tspan>+8.3</tspan></text>
<text transform="translate(689.32 1162.00) scale(1.0920 1)" font-size="32.00" fill="#009a0c" stroke="#009a0c" stroke-width="0.54"><tspan font-style="italic">R</tspan><tspan font-style="italic" font-size="23.04" dy="-13.12">2</tspan><tspan dy="13.12">=0.99</tspan></text>
<text transform="translate(1165.75 1363.00) scale(1.1046 1)" font-size="32.00" fill="#0433ff" stroke="#0433ff" stroke-width="0.54"><tspan font-style="italic">f</tspan><tspan font-style="italic" font-size="23.04" dy="8.64">cu</tspan><tspan dy="-8.64">=1.2</tspan><tspan font-style="italic">m</tspan><tspan font-style="italic" font-size="23.04" dy="-13.12">3</tspan><tspan dy="13.12">+1.66</tspan><tspan font-style="italic">m</tspan><tspan font-style="italic" font-size="23.04" dy="-13.12">2</tspan><tspan dy="13.12">−8.3</tspan><tspan font-style="italic">m</tspan><tspan>+6.99</tspan></text>
<text transform="translate(1171.07 1422.00) scale(1.0849 1)" font-size="32.00" fill="#0433ff" stroke="#0433ff" stroke-width="0.54"><tspan font-style="italic">R</tspan><tspan font-style="italic" font-size="23.04" dy="-13.12">2</tspan><tspan dy="13.12">=1.0</tspan></text>
<text transform="translate(693.25 1688.75) scale(1.1057 1)" font-size="32.00" fill="#ff0000" stroke="#ff0000" stroke-width="0.54"><tspan font-style="italic">f</tspan><tspan font-style="italic" font-size="23.04" dy="8.64">cu</tspan><tspan dy="-8.64">=−4.34</tspan><tspan font-style="italic">m</tspan><tspan font-style="italic" font-size="23.04" dy="-13.12">3</tspan><tspan dy="13.12">+10.88</tspan><tspan font-style="italic">m</tspan><tspan font-style="italic" font-size="23.04" dy="-13.12">2</tspan><tspan dy="13.12">−11.17</tspan><tspan font-style="italic">m</tspan><tspan>+5.78</tspan></text>
<text transform="translate(699.32 1747.00) scale(1.0849 1)" font-size="32.00" fill="#ff0000" stroke="#ff0000" stroke-width="0.54"><tspan font-style="italic">R</tspan><tspan font-style="italic" font-size="23.04" dy="-13.12">2</tspan><tspan dy="13.12">=1.0</tspan></text>
<text transform="translate(932.55 1896.50) scale(1.1819 1)" font-size="42.00" fill="#000000" stroke="#000000" stroke-width="0.42"><tspan>Recycled</tspan></text>
<text transform="translate(1130.36 1896.50) scale(1.2634 1)" font-size="42.00" fill="#000000" stroke="#000000" stroke-width="0.42"><tspan>asphalt</tspan></text>
<text transform="translate(1292.76 1896.50) scale(1.1186 1)" font-size="42.00" fill="#000000" stroke="#000000" stroke-width="0.42"><tspan>(%)</tspan></text>
<text transform="translate(570.50 1701.19) rotate(-90) scale(1.0447 1)" font-size="47.50" fill="#000000" stroke="#000000" stroke-width="0.48"><tspan>Compressive</tspan></text>
<text transform="translate(570.50 1433.05) rotate(-90) scale(1.0767 1)" font-size="47.50" fill="#000000" stroke="#000000" stroke-width="0.48"><tspan>strength</tspan></text>
<text transform="translate(570.50 1258.24) rotate(-90) scale(1.0029 1)" font-size="47.50" fill="#000000" stroke="#000000" stroke-width="0.48"><tspan>(MPa)</tspan></text>
<text transform="translate(798.54 1977.50) scale(1.0172 1)" font-size="54.50" fill="#000000" stroke="#000000" stroke-width="0.22"><tspan>(</tspan><tspan font-weight="bold">c</tspan><tspan>)</tspan></text>
<text transform="translate(871.54 1977.50) scale(1.0820 1)" font-size="54.50" fill="#000000" stroke="#000000" stroke-width="0.22"><tspan>Compressive</tspan></text>
<text transform="translate(1193.47 1977.50) scale(1.1103 1)" font-size="54.50" fill="#000000" stroke="#000000" stroke-width="0.22"><tspan>strength</tspan></text>
</svg>
</body></html>
